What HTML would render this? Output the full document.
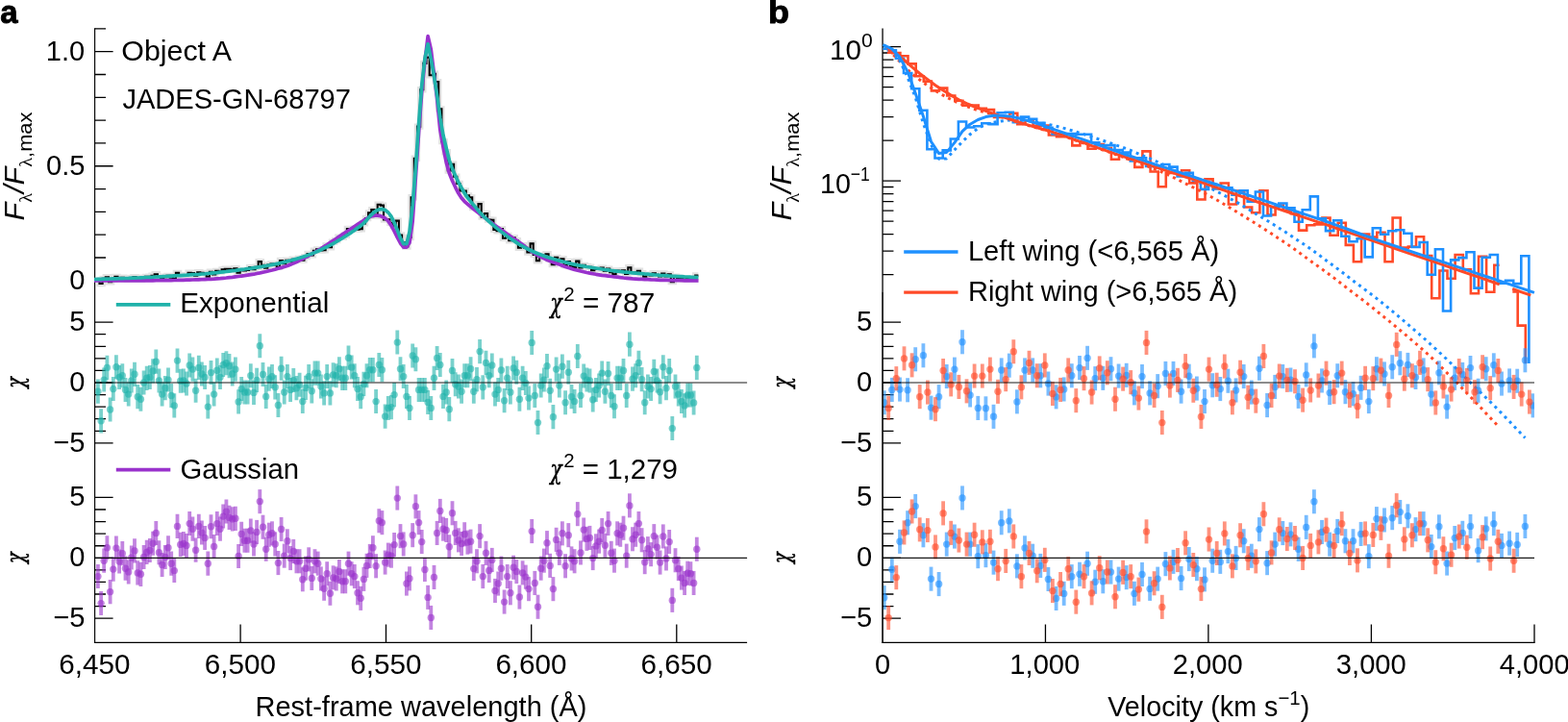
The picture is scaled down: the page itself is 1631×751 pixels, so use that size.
<!DOCTYPE html>
<html lang="en">
<head>
<meta charset="utf-8">
<title>Line profile fits: exponential versus Gaussian wings</title>
<style>html,body{margin:0;padding:0;background:#fff}body{width:1631px;height:751px;overflow:hidden}svg{display:block}</style>
</head>
<body>
<svg width="1631" height="751" viewBox="0 0 1631 751" role="img" aria-label="Broad line profile of Object A fitted with exponential and Gaussian wings">
<rect width="1631" height="751" fill="#fff"/>
<path d="M98.6,29.29V669" stroke="#000" stroke-width="1.15" fill="none"/>
<path d="M98.02,668.4H777.1" stroke="#000" stroke-width="1.2" fill="none"/>
<path d="M98.6,53.7h19M98.6,172.75h19M98.6,291.8h19M98.6,335.15h19M98.6,398h19M98.6,460.85h19M98.6,517.45h19M98.6,580.3h19M98.6,643.15h19M98.6,29.89h11.4M98.6,77.51h11.4M98.6,101.32h11.4M98.6,125.13h11.4M98.6,148.94h11.4M98.6,196.56h11.4M98.6,220.37h11.4M98.6,244.18h11.4M98.6,267.99h11.4M98.6,385.43h11.4M98.6,372.86h11.4M98.6,360.29h11.4M98.6,347.72h11.4M98.6,410.57h11.4M98.6,423.14h11.4M98.6,435.71h11.4M98.6,448.28h11.4M98.6,567.73h11.4M98.6,555.16h11.4M98.6,542.59h11.4M98.6,530.02h11.4M98.6,592.87h11.4M98.6,605.44h11.4M98.6,618.01h11.4M98.6,630.58h11.4M250.1,668.4v-19M401.5,668.4v-19M552.7,668.4v-19M703.8,668.4v-19" stroke="#000" stroke-width="1.3" fill="none"/>
<path d="M918.05,29.6V303.3" stroke="#000" stroke-width="1.3" fill="none"/>
<path d="M918.05,303.3V669" stroke="#000" stroke-width="1.6" fill="none"/>
<path d="M917.25,668.4H1596.6" stroke="#000" stroke-width="1.2" fill="none"/>
<path d="M918.05,48.6h19M918.05,188.1h19M918.05,335.15h19M918.05,398h19M918.05,460.85h19M918.05,517.45h19M918.05,580.3h19M918.05,643.15h19M918.05,54.98h11.4M918.05,62.12h11.4M918.05,70.21h11.4M918.05,79.55h11.4M918.05,90.59h11.4M918.05,104.11h11.4M918.05,121.54h11.4M918.05,146.11h11.4M918.05,194.48h11.4M918.05,201.62h11.4M918.05,209.71h11.4M918.05,219.05h11.4M918.05,230.09h11.4M918.05,243.61h11.4M918.05,261.04h11.4M918.05,285.61h11.4M918.05,385.43h11.4M918.05,372.86h11.4M918.05,360.29h11.4M918.05,347.72h11.4M918.05,410.57h11.4M918.05,423.14h11.4M918.05,435.71h11.4M918.05,448.28h11.4M918.05,567.73h11.4M918.05,555.16h11.4M918.05,542.59h11.4M918.05,530.02h11.4M918.05,592.87h11.4M918.05,605.44h11.4M918.05,618.01h11.4M918.05,630.58h11.4M1087.45,668.4v-19M1256.9,668.4v-19M1426.4,668.4v-19M1596,668.4v-19" stroke="#000" stroke-width="1.3" fill="none"/>
<g fill="none" stroke-linejoin="round">
<path d="M100.3,291.5H103.5V295H106.6V289.9H109.8V288.3H113V293.3H116.2V290.7H119.4V287.9H122.5V289.1H125.7V288.7H128.9V290.4H132.1V290.8H135.2V289H138.4V288.1H141.6V290.7H144.8V290.9H148V288.7H151.1V287.9H154.3V287.7H157.5V286.7H160.7V285.3H163.9V287.6H167V289.2H170.2V288.2H173.4V286.9H176.6V288.8H179.7V289.9H182.9V283.9H186.1V286.3H189.3V286.1H192.5V286.3H195.6V283.7H198.8V284H202V286.6H205.2V283.3H208.3V283.9H211.5V284H214.7V287.8H217.9V282.8H221.1V285.5H224.2V281.9H227.4V282.5H230.6V280.4H233.8V279.7H236.9H236.9H240.1V280.4H243.3V279.3H246.5V283.6H249.7V281.3H252.8V281.4H256V281H259.2V278.1H262.4V280.1H265.5V277.8H268.7V272.1H271.9V275.9H275.1V278.7H278.3V275.5H281.4V274.5H284.6V275.5H287.8V277.7H291V271H294.1V274.2H297.3V270.8H300.5V272.2H303.7V269.7H306.9V270.1H310V268.6H313.2V270.6H316.4V267.1H319.6V264H322.8V265.4H325.9V260.8H329.1V259.4H332.3V260.5H335.5V260.3H338.6V255.4H341.8V257.2H345V251.7H348.2V250H351.4V246.7H354.5H354.5H357.7V244.7H360.9V238H364.1H364.1H367.2V237.7H370.4V238.6H373.6V238.2H376.8V232.4H380V227H383.1V221.4H386.3V218.1H389.5V224.7H392.7V212.7H395.8V213.6H399V228.5H402.2V228.3H405.4V231.9H408.6V234.7H411.7V229.6H414.9V244.5H418.1V252.3H421.3V256.5H424.4V247H427.6V205.3H430.8V164.8H434V131.6H437.2V93.2H440.3V65.9H443.5V59.6H446.7V78.3H449.9V76.7H453V85.1H456.2V113.4H459.4V147.1H462.6V158.3H465.8V177.5H468.9V170.8H472.1V183.7H475.3V191H478.5V198.5H481.7H481.7H484.8V203.4H488V205.4H491.2V216.1H494.4V216.3H497.5V212.1H500.7V225.6H503.9V222H507.1V228.5H510.3V228.8H513.4V238.9H516.6V240.3H519.8V238.1H523V247.7H526.1V244.9H529.3V250.3H532.5V247.2H535.7V250.2H538.9V257.7H542V255.2H545.2V257.9H548.4V262.5H551.6V253.4H554.7V264.9H557.9V271.2H561.1V265.6H564.3V265.7H567.5V264.3H570.6V269.7H573.8V275.1H577V267.9H580.2V271.6H583.3V269.3H586.5V276.1H589.7V272H592.9V276.6H596.1V278.1H599.2V271.6H602.4V278.4H605.6V275.9H608.8V277H611.9V277.7H615.1V281.1H618.3V280H621.5V279.9H624.7V278.6H627.8V281.7H631V279.6H634.2V283.2H637.4V285.2H640.6V281.5H643.7V281.9H646.9V281.2H650.1V285H653.3V278.2H656.4V283.3H659.6V283.2H662.8V281.7H666V284.3H669.2V287.7H672.3V285.8H675.5V286.4H678.7V284.3H681.9V285.8H685V287.5H688.2V284.5H691.4V287.5H694.6V285.4H697.8V293.1H700.9V287.8H704.1V289H707.3V290.1H710.5V290.8H713.6V289.6H716.8V289.8H720V290.9H723.2V286.5H726.4" stroke="#e2e2e2" stroke-width="6.4" stroke-linejoin="miter"/>
<path d="M100.3,291.5H103.5V295H106.6V289.9H109.8V288.3H113V293.3H116.2V290.7H119.4V287.9H122.5V289.1H125.7V288.7H128.9V290.4H132.1V290.8H135.2V289H138.4V288.1H141.6V290.7H144.8V290.9H148V288.7H151.1V287.9H154.3V287.7H157.5V286.7H160.7V285.3H163.9V287.6H167V289.2H170.2V288.2H173.4V286.9H176.6V288.8H179.7V289.9H182.9V283.9H186.1V286.3H189.3V286.1H192.5V286.3H195.6V283.7H198.8V284H202V286.6H205.2V283.3H208.3V283.9H211.5V284H214.7V287.8H217.9V282.8H221.1V285.5H224.2V281.9H227.4V282.5H230.6V280.4H233.8V279.7H236.9H236.9H240.1V280.4H243.3V279.3H246.5V283.6H249.7V281.3H252.8V281.4H256V281H259.2V278.1H262.4V280.1H265.5V277.8H268.7V272.1H271.9V275.9H275.1V278.7H278.3V275.5H281.4V274.5H284.6V275.5H287.8V277.7H291V271H294.1V274.2H297.3V270.8H300.5V272.2H303.7V269.7H306.9V270.1H310V268.6H313.2V270.6H316.4V267.1H319.6V264H322.8V265.4H325.9V260.8H329.1V259.4H332.3V260.5H335.5V260.3H338.6V255.4H341.8V257.2H345V251.7H348.2V250H351.4V246.7H354.5H354.5H357.7V244.7H360.9V238H364.1H364.1H367.2V237.7H370.4V238.6H373.6V238.2H376.8V232.4H380V227H383.1V221.4H386.3V218.1H389.5V224.7H392.7V212.7H395.8V213.6H399V228.5H402.2V228.3H405.4V231.9H408.6V234.7H411.7V229.6H414.9V244.5H418.1V252.3H421.3V256.5H424.4V247H427.6V205.3H430.8V164.8H434V131.6H437.2V93.2H440.3V65.9H443.5V59.6H446.7V78.3H449.9V76.7H453V85.1H456.2V113.4H459.4V147.1H462.6V158.3H465.8V177.5H468.9V170.8H472.1V183.7H475.3V191H478.5V198.5H481.7H481.7H484.8V203.4H488V205.4H491.2V216.1H494.4V216.3H497.5V212.1H500.7V225.6H503.9V222H507.1V228.5H510.3V228.8H513.4V238.9H516.6V240.3H519.8V238.1H523V247.7H526.1V244.9H529.3V250.3H532.5V247.2H535.7V250.2H538.9V257.7H542V255.2H545.2V257.9H548.4V262.5H551.6V253.4H554.7V264.9H557.9V271.2H561.1V265.6H564.3V265.7H567.5V264.3H570.6V269.7H573.8V275.1H577V267.9H580.2V271.6H583.3V269.3H586.5V276.1H589.7V272H592.9V276.6H596.1V278.1H599.2V271.6H602.4V278.4H605.6V275.9H608.8V277H611.9V277.7H615.1V281.1H618.3V280H621.5V279.9H624.7V278.6H627.8V281.7H631V279.6H634.2V283.2H637.4V285.2H640.6V281.5H643.7V281.9H646.9V281.2H650.1V285H653.3V278.2H656.4V283.3H659.6V283.2H662.8V281.7H666V284.3H669.2V287.7H672.3V285.8H675.5V286.4H678.7V284.3H681.9V285.8H685V287.5H688.2V284.5H691.4V287.5H694.6V285.4H697.8V293.1H700.9V287.8H704.1V289H707.3V290.1H710.5V290.8H713.6V289.6H716.8V289.8H720V290.9H723.2V286.5H726.4" stroke="#000" stroke-width="2.1" stroke-linejoin="miter"/>
<path d="M98,291.9 101.9,291.9 105.1,291.9 108.2,291.9 111.4,291.9 114.6,291.9 117.8,291.9 120.9,291.9 124.1,291.9 127.3,291.9 130.5,291.9 133.7,291.9 136.8,291.9 140,291.9 143.2,291.9 146.4,291.9 149.5,291.8 152.7,291.8 155.9,291.8 159.1,291.8 162.3,291.7 165.4,291.7 168.6,291.7 171.8,291.6 175,291.6 178.1,291.6 181.3,291.5 184.5,291.5 187.7,291.4 190.9,291.3 194,291.2 197.2,291.1 200.4,291 203.6,290.9 206.8,290.8 209.9,290.7 213.1,290.6 216.3,290.4 219.5,290.3 222.6,290.1 225.8,289.8 229,289.6 232.2,289.3 235.4,289 238.5,288.6 241.7,288.3 244.9,287.9 248.1,287.5 251.2,287.1 254.4,286.7 257.6,286.2 260.8,285.7 264,285.2 267.1,284.5 270.3,283.9 273.5,283.2 276.7,282.5 279.8,281.7 283,281 286.2,280.2 289.4,279.3 292.6,278.4 295.7,277.4 298.9,276.4 302.1,275.2 305.3,273.9 308.4,272.5 311.6,270.9 314.8,269.3 318,267.7 321.2,266 324.3,264.2 327.5,262.4 330.7,260.4 333.9,258.5 337,256.5 340.2,254.5 343.4,252.4 346.6,250.3 349.8,248.2 352.9,246 356.1,243.9 359.3,241.8 362.5,239.7 365.7,237.6 368.8,235.5 372,233.4 375.2,231.3 378.4,229.2 381.5,227.3 384.7,225.6 387.9,224.6 391.1,224 394.3,224.3 397.4,225.3 400.6,227 403.8,229.9 407,234.6 410.1,240.4 413.3,246.8 416.5,252.8 419.7,257.2 422.9,257.2 426,252.5 429.2,230 432.4,184 435.6,138.1 438.7,96 441.9,64 445.1,37.6 448.3,51.5 451.5,77 454.6,103 457.8,135 461,153 464.2,169 467.3,180 470.5,188 473.7,194.8 476.9,201.1 480.1,206.1 483.2,209.6 486.4,212.4 489.6,215.1 492.8,217.6 495.9,220.1 499.1,222.5 502.3,225 505.5,227.3 508.7,229.7 511.8,232.1 515,234.4 518.2,236.7 521.4,239 524.6,241.2 527.7,243.5 530.9,245.7 534.1,247.9 537.3,250.1 540.4,252.3 543.6,254.6 546.8,257 550,259.4 553.2,261.7 556.3,263.8 559.5,265.7 562.7,267.4 565.9,268.9 569,270.3 572.2,271.6 575.4,272.8 578.6,274 581.8,275.1 584.9,276.3 588.1,277.4 591.3,278.4 594.5,279.4 597.6,280.4 600.8,281.2 604,282 607.2,282.8 610.4,283.5 613.5,284.1 616.7,284.7 619.9,285.3 623.1,285.8 626.2,286.3 629.4,286.7 632.6,287.1 635.8,287.5 639,287.9 642.1,288.2 645.3,288.6 648.5,289 651.7,289.3 654.8,289.6 658,289.9 661.2,290.1 664.4,290.3 667.6,290.4 670.7,290.6 673.9,290.7 677.1,290.9 680.3,291 683.5,291.1 686.6,291.3 689.8,291.4 693,291.4 696.2,291.5 699.3,291.6 702.5,291.6 705.7,291.7 708.9,291.7 712.1,291.8 715.2,291.8 718.4,291.9 721.6,291.9 724.8,291.9 726.5,291.9" stroke="#9932cc" stroke-width="3.7" stroke-linecap="butt"/>
<path d="M98,290.5 101.9,290.4 105.1,290.3 108.2,290.2 111.4,290.1 114.6,290 117.8,289.9 120.9,289.8 124.1,289.7 127.3,289.6 130.5,289.5 133.7,289.4 136.8,289.2 140,289.1 143.2,289 146.4,288.8 149.5,288.7 152.7,288.5 155.9,288.3 159.1,288.2 162.3,288 165.4,287.8 168.6,287.7 171.8,287.5 175,287.3 178.1,287.1 181.3,286.9 184.5,286.7 187.7,286.6 190.9,286.4 194,286.2 197.2,285.9 200.4,285.7 203.6,285.5 206.8,285.3 209.9,285 213.1,284.8 216.3,284.5 219.5,284.2 222.6,283.9 225.8,283.6 229,283.2 232.2,282.8 235.4,282.5 238.5,282.1 241.7,281.7 244.9,281.3 248.1,280.8 251.2,280.4 254.4,280 257.6,279.5 260.8,279.1 264,278.6 267.1,278.2 270.3,277.7 273.5,277.1 276.7,276.6 279.8,276 283,275.4 286.2,274.8 289.4,274.1 292.6,273.3 295.7,272.6 298.9,271.8 302.1,271 305.3,270.1 308.4,269.2 311.6,268.3 314.8,267.3 318,266.2 321.2,265.1 324.3,263.9 327.5,262.6 330.7,261.2 333.9,259.7 337,258.2 340.2,256.7 343.4,255.1 346.6,253.3 349.8,251.5 352.9,249.7 356.1,247.7 359.3,245.7 362.5,243.7 365.7,241.6 368.8,239.4 372,237 375.2,234.7 378.4,232.1 381.5,228.9 384.7,224.9 387.9,221.8 391.1,219.3 394.3,217.9 397.4,217.4 400.6,218.6 403.8,221 407,225.2 410.1,231.6 413.3,239.3 416.5,247.5 419.7,253.6 422.9,253.6 426,241 429.2,213.5 432.4,174 435.6,128.1 438.7,89 441.9,61.2 445.1,45.9 448.3,61.5 451.5,79.5 454.6,99 457.8,122.5 461,140.5 464.2,154 467.3,166.5 470.5,175.5 473.7,183 476.9,189.6 480.1,195.5 483.2,200.9 486.4,205.6 489.6,209.7 492.8,213.4 495.9,217.2 499.1,221 502.3,224.3 505.5,227.4 508.7,230.4 511.8,233.2 515,235.9 518.2,238.6 521.4,241.1 524.6,243.5 527.7,245.9 530.9,248.2 534.1,250.3 537.3,252.4 540.4,254.3 543.6,256.1 546.8,257.8 550,259.5 553.2,261 556.3,262.5 559.5,263.8 562.7,265 565.9,266.2 569,267.3 572.2,268.3 575.4,269.3 578.6,270.2 581.8,271.1 584.9,272 588.1,272.8 591.3,273.6 594.5,274.4 597.6,275.1 600.8,275.8 604,276.4 607.2,276.9 610.4,277.5 613.5,278 616.7,278.5 619.9,279 623.1,279.5 626.2,280 629.4,280.5 632.6,280.9 635.8,281.4 639,281.8 642.1,282.2 645.3,282.5 648.5,282.9 651.7,283.2 654.8,283.5 658,283.8 661.2,284.1 664.4,284.4 667.6,284.7 670.7,285 673.9,285.2 677.1,285.5 680.3,285.8 683.5,286 686.6,286.3 689.8,286.5 693,286.7 696.2,287 699.3,287.2 702.5,287.3 705.7,287.5 708.9,287.7 712.1,287.9 715.2,288 718.4,288.2 721.6,288.3 724.8,288.4 726.5,288.5" stroke="#20b2aa" stroke-width="3.7" stroke-linecap="butt"/>
</g>
<clipPath id="cb"><rect x="918" y="20" width="682" height="358"/></clipPath>
<g fill="none" clip-path="url(#cb)" stroke-width="2.6" stroke-linejoin="miter" stroke-linecap="square">
<path d="M924.2,54.7H928.3V55.1H936.4V58.2H944.5V66.4H952.7V79.2H960.8V84.6H968.9V94.4H977V91.6H985.2V99.5H993.3V104.7H1001.4V109.6H1009.6V109.5H1017.7V112.7H1025.8V114.1H1034V122H1042.1V121.8H1050.2V117.9H1058.3V129.1H1066.5V125.4H1074.6V130.9H1082.7V130.5H1090.9V140.5H1099V142.2H1107.1V139.4H1115.3V151.4H1123.4V147.5H1131.5V154.7H1139.6V150H1147.8V154H1155.9V165.7H1164V161.3H1172.2V165.2H1180.3V173.9H1188.4V157.4H1196.6V178.5H1204.7V194.2H1212.8V179.9H1220.9V180.3H1229.1V177.3H1237.2V190.4H1245.3V207.5H1253.5V186.4H1261.6V196.3H1269.7V190.5H1277.9V212.5H1286V198.6H1294.1V215.5H1302.2V221.2H1310.4V198.2H1318.5V223.5H1326.6V213.5H1334.8V218.7H1342.9V222.2H1351V239.6H1359.2V234.3H1367.3V233.4H1375.4V226.6H1383.5V244.7H1391.7V231.7H1399.8V254.9H1407.9V272.2H1416.1V243.6H1424.2V246.6H1432.3V241.8H1440.5V272.2H1448.6V226.5H1456.7V257.6H1464.8V256.6H1473V246.3H1481.1V266.1H1489.2V310.2H1497.4V281.5H1505.5V289.7H1513.6V265H1521.8V280.4H1529.9V305.3H1538V266.8H1546.1V303.7H1554.3V275.7H1558.3M1574.6,303.5H1578.7V338.6H1586.8V2000H1590.9" stroke="#ff4a28"/>
<path d="M919.7,50.7H923.8V52.2H931.9V60.8H940V76H948.2V92.2H956.3V114.8H964.4V155.3H972.5V164.5H980.7V156.4H988.8V144.5H996.9V126.5H1005.1V132.5H1013.2V131.2H1021.3V128.3H1029.5V129.1H1037.6V117.2H1045.7V116.8H1053.8V127.3H1062V121.6H1070.1V123.9H1078.2V127.9H1086.4V132.8H1094.5V139.4H1102.6V140H1110.8V139.1H1118.9V139.7H1127V139.8H1135.1V148.3H1143.3V151H1151.4V151.1H1159.5V156H1167.7V158.6H1175.8V167.5H1183.9V164.2H1192.1V173H1200.2V173.1H1208.3V171H1216.4V173.6H1224.6V183.5H1232.7V179.8H1240.8V187.7H1249V196.9H1257.1V191.8H1265.2V196.3H1273.4V195.2H1281.5V202.7H1289.6V198.3H1297.7V209.6H1305.9V199.5H1314V224.5H1322.1V215.1H1330.3V211.5H1338.4V216.2H1346.5V230.7H1354.7V218.3H1362.8V204.4H1370.9V227.4H1379V240.1H1387.2V229.2H1395.3V245.8H1403.4V251.2H1411.6V248.3H1419.7V267.4H1427.8V237.2H1436V243.8H1444.1V240.2H1452.2V239.2H1460.3V242.7H1468.5V257H1476.6V252H1484.7V285.8H1492.9V259.3H1501V323.5H1509.1V270.4H1517.3V268.1H1525.4V262.3H1533.5V299.6H1541.6V267.7H1549.8V265H1557.9V294.8H1566V291.9H1574.2V295.1H1582.3V266.2H1590.4V2000H1594.5" stroke="#1e90ff"/>
</g>
<g fill="none" stroke-width="3" stroke-dasharray="3 4.3" stroke-linejoin="round">
<path d="M924.2,51.7 932.3,60.1 940.5,68.8 948.6,77 956.7,83 964.9,89.1 973,94.4 981.1,99.1 989.2,103.5 997.4,107.3 1005.5,110.5 1013.6,113.6 1021.8,116.1 1029.9,118.2 1038,120.5 1046.2,123.1 1054.3,125.9 1062.4,128.3 1070.5,130.7 1078.7,133 1086.8,135.3 1094.9,137.7 1103.1,140.4 1111.2,143.2 1119.3,146.1 1127.5,149.1 1135.6,152 1143.7,154.8 1151.8,157.6 1160,160.5 1168.1,163.3 1176.2,166.3 1184.4,169.3 1192.5,172.4 1200.6,175.6 1208.8,179 1216.9,182.7 1225,186.7 1233.1,190.9 1241.3,195 1249.4,199.1 1257.5,203.4 1265.7,208 1273.8,212.8 1281.9,217.7 1290.1,222.6 1298.2,227.6 1306.3,232.6 1314.4,237.8 1322.6,243.1 1330.7,248.5 1338.8,253.9 1347,259.6 1355.1,265.5 1363.2,271.4 1371.4,277.2 1379.5,283.1 1387.6,289.1 1395.7,295.4 1403.9,301.8 1412,307.9 1420.1,314.1 1428.3,320.5 1436.4,327.1 1444.5,333.7 1452.7,340.4 1460.8,347.2 1468.9,354.1 1477,361.1 1485.2,368.5 1493.3,376.1 1501.4,384.1 1509.6,392.3 1517.7,400.5 1525.8,408.9 1534,417.4 1542.1,426 1550.2,434.6 1558.3,443.2" stroke="#ff4a28"/>
<path d="M919.7,47.3 927.8,52.2 936,63.2 944.1,80.5 952.2,101.3 960.4,128.5 968.5,150.4 976.6,165.3 984.7,164.9 992.9,155.9 1001,147.4 1009.1,139.7 1017.3,133.5 1025.4,129.3 1033.5,127.2 1041.7,125.9 1049.8,125.1 1057.9,125 1066,125.3 1074.2,126.5 1082.3,127.8 1090.4,129.4 1098.6,131.3 1106.7,133.4 1114.8,135.7 1123,138.2 1131.1,140.9 1139.2,143.6 1147.3,146.2 1155.5,149 1163.6,151.9 1171.7,154.7 1179.9,158 1188,161.6 1196.1,164.9 1204.2,168.5 1212.4,172.6 1220.5,176.8 1228.6,180.7 1236.8,184.6 1244.9,188.6 1253,192.7 1261.2,196.8 1269.3,201 1277.4,205.4 1285.6,209.9 1293.7,214.6 1301.8,219.6 1309.9,224.6 1318.1,229.5 1326.2,234.5 1334.3,239.6 1342.5,244.9 1350.6,250.4 1358.7,255.7 1366.9,261.5 1375,267.5 1383.1,273.6 1391.2,279.5 1399.4,285.7 1407.5,292 1415.6,298 1423.8,304.2 1431.9,310.4 1440,316.9 1448.2,323.6 1456.3,330.4 1464.4,337.4 1472.5,344.4 1480.7,351.5 1488.8,358.7 1496.9,366.2 1505.1,373.9 1513.2,381.8 1521.3,389.9 1529.5,397.9 1537.6,405.8 1545.7,413.7 1553.8,421.6 1562,429.9 1570.1,438.3 1578.2,446.9 1586.4,455.5" stroke="#1e90ff"/>
</g>
<g fill="none" stroke-width="3" stroke-linejoin="round" stroke-linecap="square">
<path d="M924.2,50.1 932.3,55.8 940.5,62.5 948.6,69.6 956.7,76.5 964.9,82.6 973,88.7 981.1,94 989.2,99.1 997.4,103.8 1005.5,107.6 1013.6,111 1021.8,114.2 1029.9,117.2 1038,119.8 1046.2,122.6 1054.3,125.2 1062.4,127.9 1070.5,130.4 1078.7,132.7 1086.8,135 1094.9,137.4 1103.1,140.1 1111.2,142.9 1119.3,145.8 1127.5,148.7 1135.6,151.6 1143.7,154.4 1151.8,157.2 1160,159.9 1168.1,162.6 1176.2,165.3 1184.4,168 1192.5,170.7 1200.6,173.4 1208.8,176 1216.9,178.7 1225,181.3 1233.1,184 1241.3,186.7 1249.4,189.5 1257.5,192.3 1265.7,195.2 1273.8,198.2 1281.9,201.1 1290.1,203.9 1298.2,206.7 1306.3,209.5 1314.4,212.2 1322.6,214.9 1330.7,217.6 1338.8,220.3 1347,223 1355.1,225.7 1363.2,228.4 1371.4,231.1 1379.5,233.7 1387.6,236.5 1395.7,239.3 1403.9,242.1 1412,244.9 1420.1,247.8 1428.3,250.6 1436.4,253.4 1444.5,256.2 1452.7,259 1460.8,261.8 1468.9,264.6 1477,267.4 1485.2,270.1 1493.3,272.9 1501.4,275.7 1509.6,278.5 1517.7,281.3 1525.8,284.1 1534,286.9 1542.1,289.7 1550.2,292.5 1558.3,295.3M1574.6,301 1582.7,303.8 1590.9,306.6" stroke="#ff4a28"/>
<path d="M919.7,47.2 927.8,50.9 936,59.6 944.1,74.6 952.2,97 960.4,121 968.5,147.3 976.6,159.6 984.7,158.4 992.9,148.4 1001,136.7 1009.1,129.2 1017.3,124.5 1025.4,121.6 1033.5,120.2 1041.7,120.2 1049.8,120.9 1057.9,122.4 1066,124.6 1074.2,127 1082.3,129.7 1090.4,132.5 1098.6,135.4 1106.7,138.2 1114.8,141 1123,143.9 1131.1,146.7 1139.2,149.6 1147.3,152.4 1155.5,155.3 1163.6,158.2 1171.7,161 1179.9,163.7 1188,166.4 1196.1,169.1 1204.2,171.8 1212.4,174.4 1220.5,177.1 1228.6,179.8 1236.8,182.4 1244.9,185.1 1253,187.8 1261.2,190.5 1269.3,193.2 1277.4,196 1285.6,198.7 1293.7,201.4 1301.8,204.2 1309.9,206.9 1318.1,209.7 1326.2,212.4 1334.3,215.2 1342.5,217.9 1350.6,220.7 1358.7,223.4 1366.9,226.2 1375,228.9 1383.1,231.7 1391.2,234.6 1399.4,237.5 1407.5,240.5 1415.6,243.5 1423.8,246.4 1431.9,249.3 1440,252.1 1448.2,254.8 1456.3,257.6 1464.4,260.3 1472.5,263.1 1480.7,265.8 1488.8,268.5 1496.9,271.2 1505.1,273.9 1513.2,276.7 1521.3,279.4 1529.5,282.1 1537.6,284.8 1545.7,287.5 1553.8,290.2 1562,293 1570.1,295.7 1578.2,298.4 1586.4,301.1 1594.5,303.9" stroke="#1e90ff"/>
</g>
<style>
text{font-family:"Liberation Sans", Arial, Helvetica, sans-serif;font-size:29.5px;fill:#000}.pl{font-weight:bold;font-size:35px;stroke:#000;stroke-width:.9px;stroke-linejoin:round}
.e{fill:none;stroke-width:3.8px;stroke-opacity:.6}
.m{stroke:none;fill-opacity:.6}
.t{stroke:#20b2aa;fill:#20b2aa}.p{stroke:#9932cc;fill:#9932cc}.b{stroke:#1e90ff;fill:#1e90ff}.r{stroke:#ff4a28;fill:#ff4a28}
.e.t,.e.p,.e.b,.e.r{fill:none}.m.t,.m.p,.m.b,.m.r{stroke:none}
</style>
<clipPath id="ca"><rect x="99.15" y="300" width="700" height="368"/></clipPath>
<g class="t" clip-path="url(#ca)">
<path class="e" d="M101.9,394.6v25.1"/><path class="e" d="M105.1,425.3v25.1"/><path class="e" d="M108.2,382.5v25.1"/><path class="e" d="M111.4,369.8v25.1"/><path class="e" d="M114.6,413.5v25.1"/><path class="e" d="M117.8,392v25.1"/><path class="e" d="M120.9,369.2v25.1"/><path class="e" d="M124.1,379.9v25.1"/><path class="e" d="M127.3,378.2v25.1"/><path class="e" d="M130.5,392.9v25.1"/><path class="e" d="M133.7,397.5v25.1"/><path class="e" d="M136.8,383.4v25.1"/><path class="e" d="M140,376.8v25.1"/><path class="e" d="M143.2,400.1v25.1"/><path class="e" d="M146.4,402.7v25.1"/><path class="e" d="M149.6,385.4v25.1"/><path class="e" d="M152.7,380.8v25.1"/><path class="e" d="M155.9,379.9v25.1"/><path class="e" d="M159.1,373.3v25.1"/><path class="e" d="M162.3,363.6v25.1"/><path class="e" d="M165.4,383.4v25.1"/><path class="e" d="M168.6,397.5v25.1"/><path class="e" d="M171.8,391.1v25.1"/><path class="e" d="M175,382.5v25.1"/><path class="e" d="M178.2,398.9v25.1"/><path class="e" d="M181.3,409.3v25.1"/><path class="e" d="M184.5,362.6v25.1"/><path class="e" d="M187.7,383.7v25.1"/><path class="e" d="M190.9,383.4v25.1"/><path class="e" d="M194,386.5v25.1"/><path class="e" d="M197.2,367.4v25.1"/><path class="e" d="M200.4,371.6v25.1"/><path class="e" d="M203.6,393.7v25.1"/><path class="e" d="M206.8,369.8v25.1"/><path class="e" d="M209.9,376.4v25.1"/><path class="e" d="M213.1,379.9v25.1"/><path class="e" d="M216.3,410.5v25.1"/><path class="e" d="M219.5,375v25.1"/><path class="e" d="M222.6,397.5v25.1"/><path class="e" d="M225.8,372.6v25.1"/><path class="e" d="M229,379.9v25.1"/><path class="e" d="M232.2,366.9v25.1"/><path class="e" d="M235.4,365.2v25.1"/><path class="e" d="M238.5,368.1v25.1"/><path class="e" d="M241.7,376.4v25.1"/><path class="e" d="M244.9,371.6v25.1"/><path class="e" d="M248.1,405.3v25.1"/><path class="e" d="M251.2,392v25.1"/><path class="e" d="M254.4,395.5v25.1"/><path class="e" d="M257.6,395.5v25.1"/><path class="e" d="M260.8,378.2v25.1"/><path class="e" d="M264,395.8v25.1"/><path class="e" d="M267.1,382.8v25.1"/><path class="e" d="M270.3,347.2v25.1"/><path class="e" d="M273.5,376.9v25.1"/><path class="e" d="M276.7,399.8v25.1"/><path class="e" d="M279.8,381.6v25.1"/><path class="e" d="M283,379v25.1"/><path class="e" d="M286.2,390.3v25.1"/><path class="e" d="M289.4,409v25.1"/><path class="e" d="M292.6,370.7v25.1"/><path class="e" d="M295.7,395.5v25.1"/><path class="e" d="M298.9,379v25.1"/><path class="e" d="M302.1,392.9v25.1"/><path class="e" d="M305.3,383v25.1"/><path class="e" d="M308.4,391.1v25.1"/><path class="e" d="M311.6,387.7v25.1"/><path class="e" d="M314.8,405v25.1"/><path class="e" d="M318,390.8v25.1"/><path class="e" d="M321.2,379v25.1"/><path class="e" d="M324.3,394.3v25.1"/><path class="e" d="M327.5,375.6v25.1"/><path class="e" d="M330.7,375.6v25.1"/><path class="e" d="M333.9,389.4v25.1"/><path class="e" d="M337.1,396.3v25.1"/><path class="e" d="M340.2,379v25.1"/><path class="e" d="M343.4,396.3v25.1"/><path class="e" d="M346.6,377.3v25.1"/><path class="e" d="M349.8,378.2v25.1"/><path class="e" d="M352.9,371.2v25.1"/><path class="e" d="M356.1,380.8v25.1"/><path class="e" d="M359.3,380.8v25.1"/><path class="e" d="M362.5,359.6v25.1"/><path class="e" d="M365.7,369.5v25.1"/><path class="e" d="M368.8,378.2v25.1"/><path class="e" d="M372,392v25.1"/><path class="e" d="M375.2,400.1v25.1"/><path class="e" d="M378.4,386.8v25.1"/><path class="e" d="M381.5,378.2v25.1"/><path class="e" d="M384.7,372.1v25.1"/><path class="e" d="M387.9,372.1v25.1"/><path class="e" d="M391.1,405v25.1"/><path class="e" d="M394.3,366.9v25.1"/><path class="e" d="M397.4,372.1v25.1"/><path class="e" d="M400.6,420.6v25.1"/><path class="e" d="M403.8,411.9v25.1"/><path class="e" d="M407,411.1v25.1"/><path class="e" d="M410.1,398.1v25.1"/><path class="e" d="M413.3,343.5v25.1"/><path class="e" d="M416.5,371.2v25.1"/><path class="e" d="M419.7,379v25.1"/><path class="e" d="M422.9,399.8v25.1"/><path class="e" d="M426,411.9v25.1"/><path class="e" d="M429.2,357.4v25.1"/><path class="e" d="M432.4,361.2v25.1"/><path class="e" d="M435.6,392.9v25.1"/><path class="e" d="M438.7,392.9v25.1"/><path class="e" d="M441.9,392.9v25.1"/><path class="e" d="M445.1,405.9v25.1"/><path class="e" d="M448.3,411.9v25.1"/><path class="e" d="M451.5,380.8v25.1"/><path class="e" d="M454.6,360v25.1"/><path class="e" d="M457.8,366.9v25.1"/><path class="e" d="M461,399.8v25.1"/><path class="e" d="M464.2,395.5v25.1"/><path class="e" d="M467.3,413.1v25.1"/><path class="e" d="M470.5,373v25.1"/><path class="e" d="M473.7,387.2v25.1"/><path class="e" d="M476.9,389.4v25.1"/><path class="e" d="M480.1,394.6v25.1"/><path class="e" d="M483.2,378.2v25.1"/><path class="e" d="M486.4,378.2v25.1"/><path class="e" d="M489.6,371.2v25.1"/><path class="e" d="M492.8,394.6v25.1"/><path class="e" d="M496,382.1v25.1"/><path class="e" d="M499.1,353.1v25.1"/><path class="e" d="M502.3,390.3v25.1"/><path class="e" d="M505.5,364.8v25.1"/><path class="e" d="M508.7,378.2v25.1"/><path class="e" d="M511.8,367.4v25.1"/><path class="e" d="M515,397.5v25.1"/><path class="e" d="M518.2,392.9v25.1"/><path class="e" d="M521.4,372.4v25.1"/><path class="e" d="M524.6,404.1v25.1"/><path class="e" d="M527.7,380.8v25.1"/><path class="e" d="M530.9,395.5v25.1"/><path class="e" d="M534.1,370.4v25.1"/><path class="e" d="M537.3,374.7v25.1"/><path class="e" d="M540.4,402.7v25.1"/><path class="e" d="M543.6,380.8v25.1"/><path class="e" d="M546.8,385.9v25.1"/><path class="e" d="M550,401.5v25.1"/><path class="e" d="M553.2,343.9v25.1"/><path class="e" d="M556.3,398.9v25.1"/><path class="e" d="M559.5,427v25.1"/><path class="e" d="M562.7,388.5v25.1"/><path class="e" d="M565.9,382.5v25.1"/><path class="e" d="M569,368.1v25.1"/><path class="e" d="M572.2,393.7v25.1"/><path class="e" d="M575.4,421.1v25.1"/><path class="e" d="M578.6,371.6v25.1"/><path class="e" d="M581.8,388.5v25.1"/><path class="e" d="M584.9,368.6v25.1"/><path class="e" d="M588.1,406.2v25.1"/><path class="e" d="M591.3,374.7v25.1"/><path class="e" d="M594.5,400.1v25.1"/><path class="e" d="M597.6,405v25.1"/><path class="e" d="M600.8,357.9v25.1"/><path class="e" d="M604,398.9v25.1"/><path class="e" d="M607.2,378.5v25.1"/><path class="e" d="M610.4,382.5v25.1"/><path class="e" d="M613.5,383.4v25.1"/><path class="e" d="M616.7,403.3v25.1"/><path class="e" d="M619.9,392.9v25.1"/><path class="e" d="M623.1,388.5v25.1"/><path class="e" d="M626.2,375.6v25.1"/><path class="e" d="M629.4,394.6v25.1"/><path class="e" d="M632.6,375.9v25.1"/><path class="e" d="M635.8,398.9v25.1"/><path class="e" d="M639,410.2v25.1"/><path class="e" d="M642.1,380.8v25.1"/><path class="e" d="M645.3,380.8v25.1"/><path class="e" d="M648.5,373v25.1"/><path class="e" d="M651.7,398.9v25.1"/><path class="e" d="M654.9,345.6v25.1"/><path class="e" d="M658,381.6v25.1"/><path class="e" d="M661.2,378.2v25.1"/><path class="e" d="M664.4,364.8v25.1"/><path class="e" d="M667.6,382.1v25.1"/><path class="e" d="M670.7,406.2v25.1"/><path class="e" d="M673.9,389.4v25.1"/><path class="e" d="M677.1,392v25.1"/><path class="e" d="M680.3,373.8v25.1"/><path class="e" d="M683.5,383.4v25.1"/><path class="e" d="M686.6,395.1v25.1"/><path class="e" d="M689.8,369.2v25.1"/><path class="e" d="M693,391.1v25.1"/><path class="e" d="M696.2,373v25.1"/><path class="e" d="M699.3,433v25.1"/><path class="e" d="M702.5,389.4v25.1"/><path class="e" d="M705.7,397.5v25.1"/><path class="e" d="M708.9,405v25.1"/><path class="e" d="M712.1,409.3v25.1"/><path class="e" d="M715.2,398.4v25.1"/><path class="e" d="M718.4,398.4v25.1"/><path class="e" d="M721.6,406.4v25.1"/><path class="e" d="M724.8,369.8v25.1"/>
<circle class="m" cx="101.9" cy="407.2" r="3.7"/><circle class="m" cx="105.1" cy="437.8" r="3.7"/><circle class="m" cx="108.2" cy="395.1" r="3.7"/><circle class="m" cx="111.4" cy="382.4" r="3.7"/><circle class="m" cx="114.6" cy="426" r="3.7"/><circle class="m" cx="117.8" cy="404.6" r="3.7"/><circle class="m" cx="120.9" cy="381.7" r="3.7"/><circle class="m" cx="124.1" cy="392.5" r="3.7"/><circle class="m" cx="127.3" cy="390.7" r="3.7"/><circle class="m" cx="130.5" cy="405.4" r="3.7"/><circle class="m" cx="133.7" cy="410.1" r="3.7"/><circle class="m" cx="136.8" cy="395.9" r="3.7"/><circle class="m" cx="140" cy="389.3" r="3.7"/><circle class="m" cx="143.2" cy="412.7" r="3.7"/><circle class="m" cx="146.4" cy="415.3" r="3.7"/><circle class="m" cx="149.6" cy="398" r="3.7"/><circle class="m" cx="152.7" cy="393.3" r="3.7"/><circle class="m" cx="155.9" cy="392.5" r="3.7"/><circle class="m" cx="159.1" cy="385.9" r="3.7"/><circle class="m" cx="162.3" cy="376.2" r="3.7"/><circle class="m" cx="165.4" cy="395.9" r="3.7"/><circle class="m" cx="168.6" cy="410.1" r="3.7"/><circle class="m" cx="171.8" cy="403.7" r="3.7"/><circle class="m" cx="175" cy="395.1" r="3.7"/><circle class="m" cx="178.2" cy="411.5" r="3.7"/><circle class="m" cx="181.3" cy="421.9" r="3.7"/><circle class="m" cx="184.5" cy="375.1" r="3.7"/><circle class="m" cx="187.7" cy="396.3" r="3.7"/><circle class="m" cx="190.9" cy="395.9" r="3.7"/><circle class="m" cx="194" cy="399" r="3.7"/><circle class="m" cx="197.2" cy="380" r="3.7"/><circle class="m" cx="200.4" cy="384.1" r="3.7"/><circle class="m" cx="203.6" cy="406.3" r="3.7"/><circle class="m" cx="206.8" cy="382.4" r="3.7"/><circle class="m" cx="209.9" cy="389" r="3.7"/><circle class="m" cx="213.1" cy="392.5" r="3.7"/><circle class="m" cx="216.3" cy="423.1" r="3.7"/><circle class="m" cx="219.5" cy="387.6" r="3.7"/><circle class="m" cx="222.6" cy="410.1" r="3.7"/><circle class="m" cx="225.8" cy="385.2" r="3.7"/><circle class="m" cx="229" cy="392.5" r="3.7"/><circle class="m" cx="232.2" cy="379.5" r="3.7"/><circle class="m" cx="235.4" cy="377.7" r="3.7"/><circle class="m" cx="238.5" cy="380.7" r="3.7"/><circle class="m" cx="241.7" cy="389" r="3.7"/><circle class="m" cx="244.9" cy="384.1" r="3.7"/><circle class="m" cx="248.1" cy="417.9" r="3.7"/><circle class="m" cx="251.2" cy="404.6" r="3.7"/><circle class="m" cx="254.4" cy="408" r="3.7"/><circle class="m" cx="257.6" cy="408" r="3.7"/><circle class="m" cx="260.8" cy="390.7" r="3.7"/><circle class="m" cx="264" cy="408.4" r="3.7"/><circle class="m" cx="267.1" cy="395.4" r="3.7"/><circle class="m" cx="270.3" cy="359.7" r="3.7"/><circle class="m" cx="273.5" cy="389.5" r="3.7"/><circle class="m" cx="276.7" cy="412.4" r="3.7"/><circle class="m" cx="279.8" cy="394.2" r="3.7"/><circle class="m" cx="283" cy="391.6" r="3.7"/><circle class="m" cx="286.2" cy="402.8" r="3.7"/><circle class="m" cx="289.4" cy="421.5" r="3.7"/><circle class="m" cx="292.6" cy="383.3" r="3.7"/><circle class="m" cx="295.7" cy="408" r="3.7"/><circle class="m" cx="298.9" cy="391.6" r="3.7"/><circle class="m" cx="302.1" cy="405.4" r="3.7"/><circle class="m" cx="305.3" cy="395.6" r="3.7"/><circle class="m" cx="308.4" cy="403.7" r="3.7"/><circle class="m" cx="311.6" cy="400.3" r="3.7"/><circle class="m" cx="314.8" cy="417.6" r="3.7"/><circle class="m" cx="318" cy="403.4" r="3.7"/><circle class="m" cx="321.2" cy="391.6" r="3.7"/><circle class="m" cx="324.3" cy="406.8" r="3.7"/><circle class="m" cx="327.5" cy="388.1" r="3.7"/><circle class="m" cx="330.7" cy="388.1" r="3.7"/><circle class="m" cx="333.9" cy="402" r="3.7"/><circle class="m" cx="337.1" cy="408.9" r="3.7"/><circle class="m" cx="340.2" cy="391.6" r="3.7"/><circle class="m" cx="343.4" cy="408.9" r="3.7"/><circle class="m" cx="346.6" cy="389.9" r="3.7"/><circle class="m" cx="349.8" cy="390.7" r="3.7"/><circle class="m" cx="352.9" cy="383.8" r="3.7"/><circle class="m" cx="356.1" cy="393.3" r="3.7"/><circle class="m" cx="359.3" cy="393.3" r="3.7"/><circle class="m" cx="362.5" cy="372.2" r="3.7"/><circle class="m" cx="365.7" cy="382.1" r="3.7"/><circle class="m" cx="368.8" cy="390.7" r="3.7"/><circle class="m" cx="372" cy="404.6" r="3.7"/><circle class="m" cx="375.2" cy="412.7" r="3.7"/><circle class="m" cx="378.4" cy="399.4" r="3.7"/><circle class="m" cx="381.5" cy="390.7" r="3.7"/><circle class="m" cx="384.7" cy="384.7" r="3.7"/><circle class="m" cx="387.9" cy="384.7" r="3.7"/><circle class="m" cx="391.1" cy="417.6" r="3.7"/><circle class="m" cx="394.3" cy="379.5" r="3.7"/><circle class="m" cx="397.4" cy="384.7" r="3.7"/><circle class="m" cx="400.6" cy="433.1" r="3.7"/><circle class="m" cx="403.8" cy="424.5" r="3.7"/><circle class="m" cx="407" cy="423.6" r="3.7"/><circle class="m" cx="410.1" cy="410.6" r="3.7"/><circle class="m" cx="413.3" cy="356.1" r="3.7"/><circle class="m" cx="416.5" cy="383.8" r="3.7"/><circle class="m" cx="419.7" cy="391.6" r="3.7"/><circle class="m" cx="422.9" cy="412.4" r="3.7"/><circle class="m" cx="426" cy="424.5" r="3.7"/><circle class="m" cx="429.2" cy="370" r="3.7"/><circle class="m" cx="432.4" cy="373.8" r="3.7"/><circle class="m" cx="435.6" cy="405.4" r="3.7"/><circle class="m" cx="438.7" cy="405.4" r="3.7"/><circle class="m" cx="441.9" cy="405.4" r="3.7"/><circle class="m" cx="445.1" cy="418.4" r="3.7"/><circle class="m" cx="448.3" cy="424.5" r="3.7"/><circle class="m" cx="451.5" cy="393.3" r="3.7"/><circle class="m" cx="454.6" cy="372.5" r="3.7"/><circle class="m" cx="457.8" cy="379.5" r="3.7"/><circle class="m" cx="461" cy="412.4" r="3.7"/><circle class="m" cx="464.2" cy="408" r="3.7"/><circle class="m" cx="467.3" cy="425.7" r="3.7"/><circle class="m" cx="470.5" cy="385.5" r="3.7"/><circle class="m" cx="473.7" cy="399.7" r="3.7"/><circle class="m" cx="476.9" cy="402" r="3.7"/><circle class="m" cx="480.1" cy="407.2" r="3.7"/><circle class="m" cx="483.2" cy="390.7" r="3.7"/><circle class="m" cx="486.4" cy="390.7" r="3.7"/><circle class="m" cx="489.6" cy="383.8" r="3.7"/><circle class="m" cx="492.8" cy="407.2" r="3.7"/><circle class="m" cx="496" cy="394.7" r="3.7"/><circle class="m" cx="499.1" cy="365.6" r="3.7"/><circle class="m" cx="502.3" cy="402.8" r="3.7"/><circle class="m" cx="505.5" cy="377.4" r="3.7"/><circle class="m" cx="508.7" cy="390.7" r="3.7"/><circle class="m" cx="511.8" cy="380" r="3.7"/><circle class="m" cx="515" cy="410.1" r="3.7"/><circle class="m" cx="518.2" cy="405.4" r="3.7"/><circle class="m" cx="521.4" cy="385" r="3.7"/><circle class="m" cx="524.6" cy="416.7" r="3.7"/><circle class="m" cx="527.7" cy="393.3" r="3.7"/><circle class="m" cx="530.9" cy="408" r="3.7"/><circle class="m" cx="534.1" cy="382.9" r="3.7"/><circle class="m" cx="537.3" cy="387.3" r="3.7"/><circle class="m" cx="540.4" cy="415.3" r="3.7"/><circle class="m" cx="543.6" cy="393.3" r="3.7"/><circle class="m" cx="546.8" cy="398.5" r="3.7"/><circle class="m" cx="550" cy="414.1" r="3.7"/><circle class="m" cx="553.2" cy="356.4" r="3.7"/><circle class="m" cx="556.3" cy="411.5" r="3.7"/><circle class="m" cx="559.5" cy="439.6" r="3.7"/><circle class="m" cx="562.7" cy="401.1" r="3.7"/><circle class="m" cx="565.9" cy="395.1" r="3.7"/><circle class="m" cx="569" cy="380.7" r="3.7"/><circle class="m" cx="572.2" cy="406.3" r="3.7"/><circle class="m" cx="575.4" cy="433.7" r="3.7"/><circle class="m" cx="578.6" cy="384.1" r="3.7"/><circle class="m" cx="581.8" cy="401.1" r="3.7"/><circle class="m" cx="584.9" cy="381.2" r="3.7"/><circle class="m" cx="588.1" cy="418.8" r="3.7"/><circle class="m" cx="591.3" cy="387.3" r="3.7"/><circle class="m" cx="594.5" cy="412.7" r="3.7"/><circle class="m" cx="597.6" cy="417.6" r="3.7"/><circle class="m" cx="600.8" cy="370.5" r="3.7"/><circle class="m" cx="604" cy="411.5" r="3.7"/><circle class="m" cx="607.2" cy="391.1" r="3.7"/><circle class="m" cx="610.4" cy="395.1" r="3.7"/><circle class="m" cx="613.5" cy="395.9" r="3.7"/><circle class="m" cx="616.7" cy="415.8" r="3.7"/><circle class="m" cx="619.9" cy="405.4" r="3.7"/><circle class="m" cx="623.1" cy="401.1" r="3.7"/><circle class="m" cx="626.2" cy="388.1" r="3.7"/><circle class="m" cx="629.4" cy="407.2" r="3.7"/><circle class="m" cx="632.6" cy="388.5" r="3.7"/><circle class="m" cx="635.8" cy="411.5" r="3.7"/><circle class="m" cx="639" cy="422.8" r="3.7"/><circle class="m" cx="642.1" cy="393.3" r="3.7"/><circle class="m" cx="645.3" cy="393.3" r="3.7"/><circle class="m" cx="648.5" cy="385.5" r="3.7"/><circle class="m" cx="651.7" cy="411.5" r="3.7"/><circle class="m" cx="654.9" cy="358.2" r="3.7"/><circle class="m" cx="658" cy="394.2" r="3.7"/><circle class="m" cx="661.2" cy="390.7" r="3.7"/><circle class="m" cx="664.4" cy="377.4" r="3.7"/><circle class="m" cx="667.6" cy="394.7" r="3.7"/><circle class="m" cx="670.7" cy="418.8" r="3.7"/><circle class="m" cx="673.9" cy="402" r="3.7"/><circle class="m" cx="677.1" cy="404.6" r="3.7"/><circle class="m" cx="680.3" cy="386.4" r="3.7"/><circle class="m" cx="683.5" cy="395.9" r="3.7"/><circle class="m" cx="686.6" cy="407.7" r="3.7"/><circle class="m" cx="689.8" cy="381.7" r="3.7"/><circle class="m" cx="693" cy="403.7" r="3.7"/><circle class="m" cx="696.2" cy="385.5" r="3.7"/><circle class="m" cx="699.3" cy="445.6" r="3.7"/><circle class="m" cx="702.5" cy="402" r="3.7"/><circle class="m" cx="705.7" cy="410.1" r="3.7"/><circle class="m" cx="708.9" cy="417.6" r="3.7"/><circle class="m" cx="712.1" cy="421.9" r="3.7"/><circle class="m" cx="715.2" cy="411" r="3.7"/><circle class="m" cx="718.4" cy="411" r="3.7"/><circle class="m" cx="721.6" cy="418.9" r="3.7"/><circle class="m" cx="724.8" cy="382.4" r="3.7"/>
</g>
<g class="p" clip-path="url(#ca)">
<path class="e" d="M101.9,587v25.1"/><path class="e" d="M105.1,615v25.1"/><path class="e" d="M108.2,570.6v25.1"/><path class="e" d="M111.4,557.2v25.1"/><path class="e" d="M114.6,603.1v25.1"/><path class="e" d="M117.8,579.6v25.1"/><path class="e" d="M120.9,557.5v25.1"/><path class="e" d="M124.1,571.5v25.1"/><path class="e" d="M127.3,563.1v25.1"/><path class="e" d="M130.5,578.6v25.1"/><path class="e" d="M133.7,582.4v25.1"/><path class="e" d="M136.8,567.4v25.1"/><path class="e" d="M140,560.3v25.1"/><path class="e" d="M143.2,583.3v25.1"/><path class="e" d="M146.4,584.8v25.1"/><path class="e" d="M149.6,566.9v25.1"/><path class="e" d="M152.7,561.8v25.1"/><path class="e" d="M155.9,560v25.1"/><path class="e" d="M159.1,552.7v25.1"/><path class="e" d="M162.3,541.9v25.1"/><path class="e" d="M165.4,562.2v25.1"/><path class="e" d="M168.6,574.9v25.1"/><path class="e" d="M171.8,566.9v25.1"/><path class="e" d="M175,557.2v25.1"/><path class="e" d="M178.2,573.6v25.1"/><path class="e" d="M181.3,581v25.1"/><path class="e" d="M184.5,534.8v25.1"/><path class="e" d="M187.7,553.8v25.1"/><path class="e" d="M190.9,552.9v25.1"/><path class="e" d="M194,554.9v25.1"/><path class="e" d="M197.2,532v25.1"/><path class="e" d="M200.4,537.6v25.1"/><path class="e" d="M203.6,559.6v25.1"/><path class="e" d="M206.8,534.8v25.1"/><path class="e" d="M209.9,541.5v25.1"/><path class="e" d="M213.1,546.9v25.1"/><path class="e" d="M216.3,573.6v25.1"/><path class="e" d="M219.5,535.2v25.1"/><path class="e" d="M222.6,555.9v25.1"/><path class="e" d="M225.8,532v25.1"/><path class="e" d="M229,537.6v25.1"/><path class="e" d="M232.2,524.5v25.1"/><path class="e" d="M235.4,519.5v25.1"/><path class="e" d="M238.5,525.8v25.1"/><path class="e" d="M241.7,527.3v25.1"/><path class="e" d="M244.9,526.8v25.1"/><path class="e" d="M248.1,565.9v25.1"/><path class="e" d="M251.2,542.8v25.1"/><path class="e" d="M254.4,549.7v25.1"/><path class="e" d="M257.6,549.7v25.1"/><path class="e" d="M260.8,539.5v25.1"/><path class="e" d="M264,553.4v25.1"/><path class="e" d="M267.1,540.9v25.1"/><path class="e" d="M270.3,509.1v25.1"/><path class="e" d="M273.5,535.7v25.1"/><path class="e" d="M276.7,558.7v25.1"/><path class="e" d="M279.8,543.7v25.1"/><path class="e" d="M283,542.3v25.1"/><path class="e" d="M286.2,553.4v25.1"/><path class="e" d="M289.4,573v25.1"/><path class="e" d="M292.6,538v25.1"/><path class="e" d="M295.7,565.6v25.1"/><path class="e" d="M298.9,550.3v25.1"/><path class="e" d="M302.1,568v25.1"/><path class="e" d="M305.3,560.9v25.1"/><path class="e" d="M308.4,571.2v25.1"/><path class="e" d="M311.6,571.2v25.1"/><path class="e" d="M314.8,590.2v25.1"/><path class="e" d="M318,578.6v25.1"/><path class="e" d="M321.2,569.3v25.1"/><path class="e" d="M324.3,588.9v25.1"/><path class="e" d="M327.5,571.2v25.1"/><path class="e" d="M330.7,573.6v25.1"/><path class="e" d="M333.9,589.4v25.1"/><path class="e" d="M337.1,599.7v25.1"/><path class="e" d="M340.2,584.2v25.1"/><path class="e" d="M343.4,604.7v25.1"/><path class="e" d="M346.6,588.3v25.1"/><path class="e" d="M349.8,589.4v25.1"/><path class="e" d="M352.9,582v25.1"/><path class="e" d="M356.1,592.2v25.1"/><path class="e" d="M359.3,592.2v25.1"/><path class="e" d="M362.5,573.6v25.1"/><path class="e" d="M365.7,584.2v25.1"/><path class="e" d="M368.8,587v25.1"/><path class="e" d="M372,604.2v25.1"/><path class="e" d="M375.2,609.8v25.1"/><path class="e" d="M378.4,589.8v25.1"/><path class="e" d="M381.5,575.8v25.1"/><path class="e" d="M384.7,565.9v25.1"/><path class="e" d="M387.9,557.2v25.1"/><path class="e" d="M391.1,576.2v25.1"/><path class="e" d="M394.3,529.2v25.1"/><path class="e" d="M397.4,531.1v25.1"/><path class="e" d="M400.6,572.5v25.1"/><path class="e" d="M403.8,564.6v25.1"/><path class="e" d="M407,565.6v25.1"/><path class="e" d="M410.1,554v25.1"/><path class="e" d="M413.3,505.5v25.1"/><path class="e" d="M416.5,545.1v25.1"/><path class="e" d="M419.7,553.4v25.1"/><path class="e" d="M422.9,594.5v25.1"/><path class="e" d="M426,589.3v25.1"/><path class="e" d="M429.2,544.1v25.1"/><path class="e" d="M432.4,514.3v25.1"/><path class="e" d="M435.6,531.1v25.1"/><path class="e" d="M438.7,551v25.1"/><path class="e" d="M441.9,579.9v25.1"/><path class="e" d="M445.1,608.8v25.1"/><path class="e" d="M448.3,629.9v25.1"/><path class="e" d="M451.5,587.9v25.1"/><path class="e" d="M454.6,541.9v25.1"/><path class="e" d="M457.8,518.9v25.1"/><path class="e" d="M461,537.6v25.1"/><path class="e" d="M464.2,538.9v25.1"/><path class="e" d="M467.3,556.2v25.1"/><path class="e" d="M470.5,521.2v25.1"/><path class="e" d="M473.7,541.9v25.1"/><path class="e" d="M476.9,549.3v25.1"/><path class="e" d="M480.1,552.9v25.1"/><path class="e" d="M483.2,543.2v25.1"/><path class="e" d="M486.4,551.6v25.1"/><path class="e" d="M489.6,550.6v25.1"/><path class="e" d="M492.8,579v25.1"/><path class="e" d="M496,571.2v25.1"/><path class="e" d="M499.1,545.1v25.1"/><path class="e" d="M502.3,587v25.1"/><path class="e" d="M505.5,562.8v25.1"/><path class="e" d="M508.7,580.9v25.1"/><path class="e" d="M511.8,569.9v25.1"/><path class="e" d="M515,601.9v25.1"/><path class="e" d="M518.2,594.5v25.1"/><path class="e" d="M521.4,578.6v25.1"/><path class="e" d="M524.6,613.5v25.1"/><path class="e" d="M527.7,587v25.1"/><path class="e" d="M530.9,604.2v25.1"/><path class="e" d="M534.1,577.7v25.1"/><path class="e" d="M537.3,582v25.1"/><path class="e" d="M540.4,608.5v25.1"/><path class="e" d="M543.6,583.3v25.1"/><path class="e" d="M546.8,587.6v25.1"/><path class="e" d="M550,600.1v25.1"/><path class="e" d="M553.2,540v25.1"/><path class="e" d="M556.3,593.9v25.1"/><path class="e" d="M559.5,618.7v25.1"/><path class="e" d="M562.7,578.6v25.1"/><path class="e" d="M565.9,570.6v25.1"/><path class="e" d="M569,552.1v25.1"/><path class="e" d="M572.2,575.8v25.1"/><path class="e" d="M575.4,600.1v25.1"/><path class="e" d="M578.6,548.8v25.1"/><path class="e" d="M581.8,562.8v25.1"/><path class="e" d="M584.9,542.3v25.1"/><path class="e" d="M588.1,576.2v25.1"/><path class="e" d="M591.3,544.1v25.1"/><path class="e" d="M594.5,568.4v25.1"/><path class="e" d="M597.6,571.2v25.1"/><path class="e" d="M600.8,522.1v25.1"/><path class="e" d="M604,562.4v25.1"/><path class="e" d="M607.2,538.5v25.1"/><path class="e" d="M610.4,547.8v25.1"/><path class="e" d="M613.5,546.9v25.1"/><path class="e" d="M616.7,568v25.1"/><path class="e" d="M619.9,555.3v25.1"/><path class="e" d="M623.1,550.6v25.1"/><path class="e" d="M626.2,538.9v25.1"/><path class="e" d="M629.4,554.7v25.1"/><path class="e" d="M632.6,532v25.1"/><path class="e" d="M635.8,562.8v25.1"/><path class="e" d="M639,570.6v25.1"/><path class="e" d="M642.1,542.3v25.1"/><path class="e" d="M645.3,543.7v25.1"/><path class="e" d="M648.5,536.7v25.1"/><path class="e" d="M651.7,565.6v25.1"/><path class="e" d="M654.9,513.3v25.1"/><path class="e" d="M658,548.2v25.1"/><path class="e" d="M661.2,543.7v25.1"/><path class="e" d="M664.4,532v25.1"/><path class="e" d="M667.6,549.2v25.1"/><path class="e" d="M670.7,572.1v25.1"/><path class="e" d="M673.9,558.1v25.1"/><path class="e" d="M677.1,564.1v25.1"/><path class="e" d="M680.3,545.1v25.1"/><path class="e" d="M683.5,556.6v25.1"/><path class="e" d="M686.6,572.5v25.1"/><path class="e" d="M689.8,545.4v25.1"/><path class="e" d="M693,568.4v25.1"/><path class="e" d="M696.2,551v25.1"/><path class="e" d="M699.3,611.8v25.1"/><path class="e" d="M702.5,570.2v25.1"/><path class="e" d="M705.7,579v25.1"/><path class="e" d="M708.9,588.5v25.1"/><path class="e" d="M712.1,593.9v25.1"/><path class="e" d="M715.2,583.7v25.1"/><path class="e" d="M718.4,584.2v25.1"/><path class="e" d="M721.6,593.9v25.1"/><path class="e" d="M724.8,558.7v25.1"/>
<circle class="m" cx="101.9" cy="599.6" r="3.7"/><circle class="m" cx="105.1" cy="627.6" r="3.7"/><circle class="m" cx="108.2" cy="583.2" r="3.7"/><circle class="m" cx="111.4" cy="569.7" r="3.7"/><circle class="m" cx="114.6" cy="615.6" r="3.7"/><circle class="m" cx="117.8" cy="592.1" r="3.7"/><circle class="m" cx="120.9" cy="570.1" r="3.7"/><circle class="m" cx="124.1" cy="584.1" r="3.7"/><circle class="m" cx="127.3" cy="575.7" r="3.7"/><circle class="m" cx="130.5" cy="591.2" r="3.7"/><circle class="m" cx="133.7" cy="594.9" r="3.7"/><circle class="m" cx="136.8" cy="580" r="3.7"/><circle class="m" cx="140" cy="572.9" r="3.7"/><circle class="m" cx="143.2" cy="595.9" r="3.7"/><circle class="m" cx="146.4" cy="597.3" r="3.7"/><circle class="m" cx="149.6" cy="579.4" r="3.7"/><circle class="m" cx="152.7" cy="574.4" r="3.7"/><circle class="m" cx="155.9" cy="572.5" r="3.7"/><circle class="m" cx="159.1" cy="565.3" r="3.7"/><circle class="m" cx="162.3" cy="554.5" r="3.7"/><circle class="m" cx="165.4" cy="574.8" r="3.7"/><circle class="m" cx="168.6" cy="587.5" r="3.7"/><circle class="m" cx="171.8" cy="579.4" r="3.7"/><circle class="m" cx="175" cy="569.7" r="3.7"/><circle class="m" cx="178.2" cy="586.2" r="3.7"/><circle class="m" cx="181.3" cy="593.6" r="3.7"/><circle class="m" cx="184.5" cy="547.4" r="3.7"/><circle class="m" cx="187.7" cy="566.4" r="3.7"/><circle class="m" cx="190.9" cy="565.5" r="3.7"/><circle class="m" cx="194" cy="567.5" r="3.7"/><circle class="m" cx="197.2" cy="544.6" r="3.7"/><circle class="m" cx="200.4" cy="550.2" r="3.7"/><circle class="m" cx="203.6" cy="572.2" r="3.7"/><circle class="m" cx="206.8" cy="547.4" r="3.7"/><circle class="m" cx="209.9" cy="554.1" r="3.7"/><circle class="m" cx="213.1" cy="559.5" r="3.7"/><circle class="m" cx="216.3" cy="586.2" r="3.7"/><circle class="m" cx="219.5" cy="547.7" r="3.7"/><circle class="m" cx="222.6" cy="568.4" r="3.7"/><circle class="m" cx="225.8" cy="544.6" r="3.7"/><circle class="m" cx="229" cy="550.2" r="3.7"/><circle class="m" cx="232.2" cy="537.1" r="3.7"/><circle class="m" cx="235.4" cy="532.1" r="3.7"/><circle class="m" cx="238.5" cy="538.4" r="3.7"/><circle class="m" cx="241.7" cy="539.9" r="3.7"/><circle class="m" cx="244.9" cy="539.3" r="3.7"/><circle class="m" cx="248.1" cy="578.5" r="3.7"/><circle class="m" cx="251.2" cy="555.4" r="3.7"/><circle class="m" cx="254.4" cy="562.3" r="3.7"/><circle class="m" cx="257.6" cy="562.3" r="3.7"/><circle class="m" cx="260.8" cy="552" r="3.7"/><circle class="m" cx="264" cy="566" r="3.7"/><circle class="m" cx="267.1" cy="553.5" r="3.7"/><circle class="m" cx="270.3" cy="521.6" r="3.7"/><circle class="m" cx="273.5" cy="548.3" r="3.7"/><circle class="m" cx="276.7" cy="571.2" r="3.7"/><circle class="m" cx="279.8" cy="556.3" r="3.7"/><circle class="m" cx="283" cy="554.8" r="3.7"/><circle class="m" cx="286.2" cy="566" r="3.7"/><circle class="m" cx="289.4" cy="585.6" r="3.7"/><circle class="m" cx="292.6" cy="550.5" r="3.7"/><circle class="m" cx="295.7" cy="578.1" r="3.7"/><circle class="m" cx="298.9" cy="562.8" r="3.7"/><circle class="m" cx="302.1" cy="580.6" r="3.7"/><circle class="m" cx="305.3" cy="573.5" r="3.7"/><circle class="m" cx="308.4" cy="583.7" r="3.7"/><circle class="m" cx="311.6" cy="583.7" r="3.7"/><circle class="m" cx="314.8" cy="602.8" r="3.7"/><circle class="m" cx="318" cy="591.2" r="3.7"/><circle class="m" cx="321.2" cy="581.9" r="3.7"/><circle class="m" cx="324.3" cy="601.4" r="3.7"/><circle class="m" cx="327.5" cy="583.7" r="3.7"/><circle class="m" cx="330.7" cy="586.2" r="3.7"/><circle class="m" cx="333.9" cy="602" r="3.7"/><circle class="m" cx="337.1" cy="612.3" r="3.7"/><circle class="m" cx="340.2" cy="596.8" r="3.7"/><circle class="m" cx="343.4" cy="617.3" r="3.7"/><circle class="m" cx="346.6" cy="600.9" r="3.7"/><circle class="m" cx="349.8" cy="602" r="3.7"/><circle class="m" cx="352.9" cy="594.5" r="3.7"/><circle class="m" cx="356.1" cy="604.8" r="3.7"/><circle class="m" cx="359.3" cy="604.8" r="3.7"/><circle class="m" cx="362.5" cy="586.2" r="3.7"/><circle class="m" cx="365.7" cy="596.8" r="3.7"/><circle class="m" cx="368.8" cy="599.6" r="3.7"/><circle class="m" cx="372" cy="616.7" r="3.7"/><circle class="m" cx="375.2" cy="622.3" r="3.7"/><circle class="m" cx="378.4" cy="602.4" r="3.7"/><circle class="m" cx="381.5" cy="588.4" r="3.7"/><circle class="m" cx="384.7" cy="578.5" r="3.7"/><circle class="m" cx="387.9" cy="569.7" r="3.7"/><circle class="m" cx="391.1" cy="588.8" r="3.7"/><circle class="m" cx="394.3" cy="541.8" r="3.7"/><circle class="m" cx="397.4" cy="543.6" r="3.7"/><circle class="m" cx="400.6" cy="585" r="3.7"/><circle class="m" cx="403.8" cy="577.2" r="3.7"/><circle class="m" cx="407" cy="578.1" r="3.7"/><circle class="m" cx="410.1" cy="566.6" r="3.7"/><circle class="m" cx="413.3" cy="518.1" r="3.7"/><circle class="m" cx="416.5" cy="557.6" r="3.7"/><circle class="m" cx="419.7" cy="566" r="3.7"/><circle class="m" cx="422.9" cy="607" r="3.7"/><circle class="m" cx="426" cy="601.8" r="3.7"/><circle class="m" cx="429.2" cy="556.7" r="3.7"/><circle class="m" cx="432.4" cy="526.8" r="3.7"/><circle class="m" cx="435.6" cy="543.6" r="3.7"/><circle class="m" cx="438.7" cy="563.6" r="3.7"/><circle class="m" cx="441.9" cy="592.5" r="3.7"/><circle class="m" cx="445.1" cy="621.4" r="3.7"/><circle class="m" cx="448.3" cy="642.5" r="3.7"/><circle class="m" cx="451.5" cy="600.5" r="3.7"/><circle class="m" cx="454.6" cy="554.5" r="3.7"/><circle class="m" cx="457.8" cy="531.5" r="3.7"/><circle class="m" cx="461" cy="550.2" r="3.7"/><circle class="m" cx="464.2" cy="551.5" r="3.7"/><circle class="m" cx="467.3" cy="568.8" r="3.7"/><circle class="m" cx="470.5" cy="533.7" r="3.7"/><circle class="m" cx="473.7" cy="554.5" r="3.7"/><circle class="m" cx="476.9" cy="561.9" r="3.7"/><circle class="m" cx="480.1" cy="565.5" r="3.7"/><circle class="m" cx="483.2" cy="555.8" r="3.7"/><circle class="m" cx="486.4" cy="564.1" r="3.7"/><circle class="m" cx="489.6" cy="563.2" r="3.7"/><circle class="m" cx="492.8" cy="591.6" r="3.7"/><circle class="m" cx="496" cy="583.7" r="3.7"/><circle class="m" cx="499.1" cy="557.6" r="3.7"/><circle class="m" cx="502.3" cy="599.6" r="3.7"/><circle class="m" cx="505.5" cy="575.3" r="3.7"/><circle class="m" cx="508.7" cy="593.4" r="3.7"/><circle class="m" cx="511.8" cy="582.4" r="3.7"/><circle class="m" cx="515" cy="614.5" r="3.7"/><circle class="m" cx="518.2" cy="607" r="3.7"/><circle class="m" cx="521.4" cy="591.2" r="3.7"/><circle class="m" cx="524.6" cy="626.1" r="3.7"/><circle class="m" cx="527.7" cy="599.6" r="3.7"/><circle class="m" cx="530.9" cy="616.7" r="3.7"/><circle class="m" cx="534.1" cy="590.3" r="3.7"/><circle class="m" cx="537.3" cy="594.5" r="3.7"/><circle class="m" cx="540.4" cy="621" r="3.7"/><circle class="m" cx="543.6" cy="595.9" r="3.7"/><circle class="m" cx="546.8" cy="600.1" r="3.7"/><circle class="m" cx="550" cy="612.6" r="3.7"/><circle class="m" cx="553.2" cy="552.6" r="3.7"/><circle class="m" cx="556.3" cy="606.5" r="3.7"/><circle class="m" cx="559.5" cy="631.3" r="3.7"/><circle class="m" cx="562.7" cy="591.2" r="3.7"/><circle class="m" cx="565.9" cy="583.2" r="3.7"/><circle class="m" cx="569" cy="564.7" r="3.7"/><circle class="m" cx="572.2" cy="588.4" r="3.7"/><circle class="m" cx="575.4" cy="612.6" r="3.7"/><circle class="m" cx="578.6" cy="561.4" r="3.7"/><circle class="m" cx="581.8" cy="575.3" r="3.7"/><circle class="m" cx="584.9" cy="554.8" r="3.7"/><circle class="m" cx="588.1" cy="588.8" r="3.7"/><circle class="m" cx="591.3" cy="556.7" r="3.7"/><circle class="m" cx="594.5" cy="580.9" r="3.7"/><circle class="m" cx="597.6" cy="583.7" r="3.7"/><circle class="m" cx="600.8" cy="534.7" r="3.7"/><circle class="m" cx="604" cy="575" r="3.7"/><circle class="m" cx="607.2" cy="551.1" r="3.7"/><circle class="m" cx="610.4" cy="560.4" r="3.7"/><circle class="m" cx="613.5" cy="559.5" r="3.7"/><circle class="m" cx="616.7" cy="580.6" r="3.7"/><circle class="m" cx="619.9" cy="567.9" r="3.7"/><circle class="m" cx="623.1" cy="563.2" r="3.7"/><circle class="m" cx="626.2" cy="551.5" r="3.7"/><circle class="m" cx="629.4" cy="567.3" r="3.7"/><circle class="m" cx="632.6" cy="544.6" r="3.7"/><circle class="m" cx="635.8" cy="575.3" r="3.7"/><circle class="m" cx="639" cy="583.2" r="3.7"/><circle class="m" cx="642.1" cy="554.8" r="3.7"/><circle class="m" cx="645.3" cy="556.3" r="3.7"/><circle class="m" cx="648.5" cy="549.2" r="3.7"/><circle class="m" cx="651.7" cy="578.1" r="3.7"/><circle class="m" cx="654.9" cy="525.9" r="3.7"/><circle class="m" cx="658" cy="560.8" r="3.7"/><circle class="m" cx="661.2" cy="556.3" r="3.7"/><circle class="m" cx="664.4" cy="544.6" r="3.7"/><circle class="m" cx="667.6" cy="561.7" r="3.7"/><circle class="m" cx="670.7" cy="584.7" r="3.7"/><circle class="m" cx="673.9" cy="570.7" r="3.7"/><circle class="m" cx="677.1" cy="576.6" r="3.7"/><circle class="m" cx="680.3" cy="557.6" r="3.7"/><circle class="m" cx="683.5" cy="569.2" r="3.7"/><circle class="m" cx="686.6" cy="585" r="3.7"/><circle class="m" cx="689.8" cy="558" r="3.7"/><circle class="m" cx="693" cy="580.9" r="3.7"/><circle class="m" cx="696.2" cy="563.6" r="3.7"/><circle class="m" cx="699.3" cy="624.4" r="3.7"/><circle class="m" cx="702.5" cy="582.8" r="3.7"/><circle class="m" cx="705.7" cy="591.6" r="3.7"/><circle class="m" cx="708.9" cy="601.1" r="3.7"/><circle class="m" cx="712.1" cy="606.5" r="3.7"/><circle class="m" cx="715.2" cy="596.2" r="3.7"/><circle class="m" cx="718.4" cy="596.8" r="3.7"/><circle class="m" cx="721.6" cy="606.5" r="3.7"/><circle class="m" cx="724.8" cy="571.2" r="3.7"/>
</g>
<clipPath id="cc"><rect x="919" y="300" width="677.1" height="368"/></clipPath>
<g class="b" clip-path="url(#cc)">
<path class="e" d="M919.7,406.2v25.1"/><path class="e" d="M927.8,392.9v25.1"/><path class="e" d="M936,392.5v25.1"/><path class="e" d="M944.1,393.2v25.1"/><path class="e" d="M952.2,361.2v25.1"/><path class="e" d="M960.4,357.2v25.1"/><path class="e" d="M968.5,411.6v25.1"/><path class="e" d="M976.6,400.1v25.1"/><path class="e" d="M984.7,379v25.1"/><path class="e" d="M992.9,371.6v25.1"/><path class="e" d="M1001,343.2v25.1"/><path class="e" d="M1009.1,398.4v25.1"/><path class="e" d="M1017.3,411.9v25.1"/><path class="e" d="M1025.4,412.3v25.1"/><path class="e" d="M1033.5,420.8v25.1"/><path class="e" d="M1041.7,372.4v25.1"/><path class="e" d="M1049.8,367.6v25.1"/><path class="e" d="M1057.9,405.3v25.1"/><path class="e" d="M1066,372.4v25.1"/><path class="e" d="M1074.2,372.4v25.1"/><path class="e" d="M1082.3,378.2v25.1"/><path class="e" d="M1090.4,386.5v25.1"/><path class="e" d="M1098.6,400.3v25.1"/><path class="e" d="M1106.7,392.4v25.1"/><path class="e" d="M1114.8,378.2v25.1"/><path class="e" d="M1123,370v25.1"/><path class="e" d="M1131.1,359.8v25.1"/><path class="e" d="M1139.2,381.1v25.1"/><path class="e" d="M1147.3,380.8v25.1"/><path class="e" d="M1155.5,371.2v25.1"/><path class="e" d="M1163.6,378.5v25.1"/><path class="e" d="M1171.7,377.8v25.1"/><path class="e" d="M1179.9,396.3v25.1"/><path class="e" d="M1188,379v25.1"/><path class="e" d="M1196.1,396.3v25.1"/><path class="e" d="M1204.2,389.1v25.1"/><path class="e" d="M1212.4,375.9v25.1"/><path class="e" d="M1220.5,375.9v25.1"/><path class="e" d="M1228.6,394.6v25.1"/><path class="e" d="M1236.8,378.7v25.1"/><path class="e" d="M1244.9,391.5v25.1"/><path class="e" d="M1253,405v25.1"/><path class="e" d="M1261.2,388.2v25.1"/><path class="e" d="M1269.3,392v25.1"/><path class="e" d="M1277.4,383.7v25.1"/><path class="e" d="M1285.6,393.4v25.1"/><path class="e" d="M1293.7,379v25.1"/><path class="e" d="M1301.8,395.5v25.1"/><path class="e" d="M1309.9,370.7v25.1"/><path class="e" d="M1318.1,409v25.1"/><path class="e" d="M1326.2,389.9v25.1"/><path class="e" d="M1334.3,379v25.1"/><path class="e" d="M1342.5,382.5v25.1"/><path class="e" d="M1350.6,399.8v25.1"/><path class="e" d="M1358.7,377.3v25.1"/><path class="e" d="M1366.9,347.3v25.1"/><path class="e" d="M1375,383.4v25.1"/><path class="e" d="M1383.1,396v25.1"/><path class="e" d="M1391.2,378.2v25.1"/><path class="e" d="M1399.4,395.1v25.1"/><path class="e" d="M1407.5,397.2v25.1"/><path class="e" d="M1415.6,390.8v25.1"/><path class="e" d="M1423.8,405v25.1"/><path class="e" d="M1431.9,371.2v25.1"/><path class="e" d="M1440,376.4v25.1"/><path class="e" d="M1448.2,369.2v25.1"/><path class="e" d="M1456.3,365.2v25.1"/><path class="e" d="M1464.4,366.9v25.1"/><path class="e" d="M1472.5,379.9v25.1"/><path class="e" d="M1480.7,372.4v25.1"/><path class="e" d="M1488.8,397.5v25.1"/><path class="e" d="M1496.9,375.2v25.1"/><path class="e" d="M1505.1,410.5v25.1"/><path class="e" d="M1513.2,380.8v25.1"/><path class="e" d="M1521.3,376.9v25.1"/><path class="e" d="M1529.5,370v25.1"/><path class="e" d="M1537.6,393.7v25.1"/><path class="e" d="M1545.7,371.2v25.1"/><path class="e" d="M1553.8,367.3v25.1"/><path class="e" d="M1562,386.5v25.1"/><path class="e" d="M1570.1,383.4v25.1"/><path class="e" d="M1578.2,383.7v25.1"/><path class="e" d="M1586.4,362.2v25.1"/><path class="e" d="M1594.5,409.3v25.1"/>
<circle class="m" cx="919.7" cy="418.8" r="3.7"/><circle class="m" cx="927.8" cy="405.4" r="3.7"/><circle class="m" cx="936" cy="405.1" r="3.7"/><circle class="m" cx="944.1" cy="405.8" r="3.7"/><circle class="m" cx="952.2" cy="373.8" r="3.7"/><circle class="m" cx="960.4" cy="369.8" r="3.7"/><circle class="m" cx="968.5" cy="424.1" r="3.7"/><circle class="m" cx="976.6" cy="412.7" r="3.7"/><circle class="m" cx="984.7" cy="391.6" r="3.7"/><circle class="m" cx="992.9" cy="384.1" r="3.7"/><circle class="m" cx="1001" cy="355.8" r="3.7"/><circle class="m" cx="1009.1" cy="411" r="3.7"/><circle class="m" cx="1017.3" cy="424.5" r="3.7"/><circle class="m" cx="1025.4" cy="424.8" r="3.7"/><circle class="m" cx="1033.5" cy="433.3" r="3.7"/><circle class="m" cx="1041.7" cy="385" r="3.7"/><circle class="m" cx="1049.8" cy="380.2" r="3.7"/><circle class="m" cx="1057.9" cy="417.9" r="3.7"/><circle class="m" cx="1066" cy="385" r="3.7"/><circle class="m" cx="1074.2" cy="385" r="3.7"/><circle class="m" cx="1082.3" cy="390.7" r="3.7"/><circle class="m" cx="1090.4" cy="399" r="3.7"/><circle class="m" cx="1098.6" cy="412.9" r="3.7"/><circle class="m" cx="1106.7" cy="404.9" r="3.7"/><circle class="m" cx="1114.8" cy="390.7" r="3.7"/><circle class="m" cx="1123" cy="382.6" r="3.7"/><circle class="m" cx="1131.1" cy="372.4" r="3.7"/><circle class="m" cx="1139.2" cy="393.7" r="3.7"/><circle class="m" cx="1147.3" cy="393.3" r="3.7"/><circle class="m" cx="1155.5" cy="383.8" r="3.7"/><circle class="m" cx="1163.6" cy="391.1" r="3.7"/><circle class="m" cx="1171.7" cy="390.4" r="3.7"/><circle class="m" cx="1179.9" cy="408.9" r="3.7"/><circle class="m" cx="1188" cy="391.6" r="3.7"/><circle class="m" cx="1196.1" cy="408.9" r="3.7"/><circle class="m" cx="1204.2" cy="401.6" r="3.7"/><circle class="m" cx="1212.4" cy="388.5" r="3.7"/><circle class="m" cx="1220.5" cy="388.5" r="3.7"/><circle class="m" cx="1228.6" cy="407.2" r="3.7"/><circle class="m" cx="1236.8" cy="391.2" r="3.7"/><circle class="m" cx="1244.9" cy="404.1" r="3.7"/><circle class="m" cx="1253" cy="417.6" r="3.7"/><circle class="m" cx="1261.2" cy="400.8" r="3.7"/><circle class="m" cx="1269.3" cy="404.6" r="3.7"/><circle class="m" cx="1277.4" cy="396.3" r="3.7"/><circle class="m" cx="1285.6" cy="406" r="3.7"/><circle class="m" cx="1293.7" cy="391.6" r="3.7"/><circle class="m" cx="1301.8" cy="408" r="3.7"/><circle class="m" cx="1309.9" cy="383.3" r="3.7"/><circle class="m" cx="1318.1" cy="421.5" r="3.7"/><circle class="m" cx="1326.2" cy="402.5" r="3.7"/><circle class="m" cx="1334.3" cy="391.6" r="3.7"/><circle class="m" cx="1342.5" cy="395.1" r="3.7"/><circle class="m" cx="1350.6" cy="412.4" r="3.7"/><circle class="m" cx="1358.7" cy="389.9" r="3.7"/><circle class="m" cx="1366.9" cy="359.9" r="3.7"/><circle class="m" cx="1375" cy="395.9" r="3.7"/><circle class="m" cx="1383.1" cy="408.6" r="3.7"/><circle class="m" cx="1391.2" cy="390.7" r="3.7"/><circle class="m" cx="1399.4" cy="407.7" r="3.7"/><circle class="m" cx="1407.5" cy="409.8" r="3.7"/><circle class="m" cx="1415.6" cy="403.4" r="3.7"/><circle class="m" cx="1423.8" cy="417.6" r="3.7"/><circle class="m" cx="1431.9" cy="383.8" r="3.7"/><circle class="m" cx="1440" cy="389" r="3.7"/><circle class="m" cx="1448.2" cy="381.7" r="3.7"/><circle class="m" cx="1456.3" cy="377.7" r="3.7"/><circle class="m" cx="1464.4" cy="379.5" r="3.7"/><circle class="m" cx="1472.5" cy="392.5" r="3.7"/><circle class="m" cx="1480.7" cy="385" r="3.7"/><circle class="m" cx="1488.8" cy="410.1" r="3.7"/><circle class="m" cx="1496.9" cy="387.8" r="3.7"/><circle class="m" cx="1505.1" cy="423.1" r="3.7"/><circle class="m" cx="1513.2" cy="393.3" r="3.7"/><circle class="m" cx="1521.3" cy="389.5" r="3.7"/><circle class="m" cx="1529.5" cy="382.6" r="3.7"/><circle class="m" cx="1537.6" cy="406.3" r="3.7"/><circle class="m" cx="1545.7" cy="383.8" r="3.7"/><circle class="m" cx="1553.8" cy="379.8" r="3.7"/><circle class="m" cx="1562" cy="399" r="3.7"/><circle class="m" cx="1570.1" cy="395.9" r="3.7"/><circle class="m" cx="1578.2" cy="396.3" r="3.7"/><circle class="m" cx="1586.4" cy="374.8" r="3.7"/><circle class="m" cx="1594.5" cy="421.9" r="3.7"/>
</g>
<g class="r" clip-path="url(#cc)">
<path class="e" d="M924.2,411.9v25.1"/><path class="e" d="M932.3,381.1v25.1"/><path class="e" d="M940.5,360.3v25.1"/><path class="e" d="M948.6,367.3v25.1"/><path class="e" d="M956.7,400.1v25.1"/><path class="e" d="M964.9,395.5v25.1"/><path class="e" d="M973,413.1v25.1"/><path class="e" d="M981.1,373v25.1"/><path class="e" d="M989.2,387.3v25.1"/><path class="e" d="M997.4,389.9v25.1"/><path class="e" d="M1005.5,394.3v25.1"/><path class="e" d="M1013.6,378.5v25.1"/><path class="e" d="M1021.8,378.5v25.1"/><path class="e" d="M1029.9,371.6v25.1"/><path class="e" d="M1038,394.8v25.1"/><path class="e" d="M1046.2,382.1v25.1"/><path class="e" d="M1054.3,353.2v25.1"/><path class="e" d="M1062.4,390.3v25.1"/><path class="e" d="M1070.5,364.8v25.1"/><path class="e" d="M1078.7,378.2v25.1"/><path class="e" d="M1086.8,367.4v25.1"/><path class="e" d="M1094.9,396.9v25.1"/><path class="e" d="M1103.1,392.9v25.1"/><path class="e" d="M1111.2,372.4v25.1"/><path class="e" d="M1119.3,404.1v25.1"/><path class="e" d="M1127.5,381.1v25.1"/><path class="e" d="M1135.6,395.5v25.1"/><path class="e" d="M1143.7,370.4v25.1"/><path class="e" d="M1151.8,375.2v25.1"/><path class="e" d="M1160,402.7v25.1"/><path class="e" d="M1168.1,381.6v25.1"/><path class="e" d="M1176.2,385.1v25.1"/><path class="e" d="M1184.4,401.5v25.1"/><path class="e" d="M1192.5,343.9v25.1"/><path class="e" d="M1200.6,398.9v25.1"/><path class="e" d="M1208.8,427v25.1"/><path class="e" d="M1216.9,388.5v25.1"/><path class="e" d="M1225,382.8v25.1"/><path class="e" d="M1233.1,368.1v25.1"/><path class="e" d="M1241.3,393.7v25.1"/><path class="e" d="M1249.4,420.9v25.1"/><path class="e" d="M1257.5,371.6v25.1"/><path class="e" d="M1265.7,387.7v25.1"/><path class="e" d="M1273.8,368.5v25.1"/><path class="e" d="M1281.9,406.2v25.1"/><path class="e" d="M1290.1,374.7v25.1"/><path class="e" d="M1298.2,400.7v25.1"/><path class="e" d="M1306.3,404.6v25.1"/><path class="e" d="M1314.4,357.9v25.1"/><path class="e" d="M1322.6,398.9v25.1"/><path class="e" d="M1330.7,378.5v25.1"/><path class="e" d="M1338.8,382.8v25.1"/><path class="e" d="M1347,384.2v25.1"/><path class="e" d="M1355.1,403.6v25.1"/><path class="e" d="M1363.2,393.4v25.1"/><path class="e" d="M1371.4,388.5v25.1"/><path class="e" d="M1379.5,375.6v25.1"/><path class="e" d="M1387.6,395.1v25.1"/><path class="e" d="M1395.7,375.6v25.1"/><path class="e" d="M1403.9,398.9v25.1"/><path class="e" d="M1412,410.2v25.1"/><path class="e" d="M1420.1,380.8v25.1"/><path class="e" d="M1428.3,381.1v25.1"/><path class="e" d="M1436.4,372.6v25.1"/><path class="e" d="M1444.5,398.9v25.1"/><path class="e" d="M1452.7,345.8v25.1"/><path class="e" d="M1460.8,381.6v25.1"/><path class="e" d="M1468.9,378.2v25.1"/><path class="e" d="M1477,364.8v25.1"/><path class="e" d="M1485.2,382.1v25.1"/><path class="e" d="M1493.3,406.4v25.1"/><path class="e" d="M1501.4,389.4v25.1"/><path class="e" d="M1509.6,392.5v25.1"/><path class="e" d="M1517.7,373v25.1"/><path class="e" d="M1525.8,383v25.1"/><path class="e" d="M1534,395.1v25.1"/><path class="e" d="M1542.1,369.2v25.1"/><path class="e" d="M1550.2,391.1v25.1"/><path class="e" d="M1558.3,373v25.1"/><path class="e" d="M1574.6,389.9v25.1"/><path class="e" d="M1582.7,397.5v25.1"/><path class="e" d="M1590.9,405.5v25.1"/>
<circle class="m" cx="924.2" cy="424.5" r="3.7"/><circle class="m" cx="932.3" cy="393.7" r="3.7"/><circle class="m" cx="940.5" cy="372.9" r="3.7"/><circle class="m" cx="948.6" cy="379.8" r="3.7"/><circle class="m" cx="956.7" cy="412.7" r="3.7"/><circle class="m" cx="964.9" cy="408" r="3.7"/><circle class="m" cx="973" cy="425.7" r="3.7"/><circle class="m" cx="981.1" cy="385.5" r="3.7"/><circle class="m" cx="989.2" cy="399.9" r="3.7"/><circle class="m" cx="997.4" cy="402.5" r="3.7"/><circle class="m" cx="1005.5" cy="406.8" r="3.7"/><circle class="m" cx="1013.6" cy="391.1" r="3.7"/><circle class="m" cx="1021.8" cy="391.1" r="3.7"/><circle class="m" cx="1029.9" cy="384.1" r="3.7"/><circle class="m" cx="1038" cy="407.3" r="3.7"/><circle class="m" cx="1046.2" cy="394.7" r="3.7"/><circle class="m" cx="1054.3" cy="365.8" r="3.7"/><circle class="m" cx="1062.4" cy="402.8" r="3.7"/><circle class="m" cx="1070.5" cy="377.4" r="3.7"/><circle class="m" cx="1078.7" cy="390.7" r="3.7"/><circle class="m" cx="1086.8" cy="380" r="3.7"/><circle class="m" cx="1094.9" cy="409.4" r="3.7"/><circle class="m" cx="1103.1" cy="405.4" r="3.7"/><circle class="m" cx="1111.2" cy="385" r="3.7"/><circle class="m" cx="1119.3" cy="416.7" r="3.7"/><circle class="m" cx="1127.5" cy="393.7" r="3.7"/><circle class="m" cx="1135.6" cy="408" r="3.7"/><circle class="m" cx="1143.7" cy="382.9" r="3.7"/><circle class="m" cx="1151.8" cy="387.8" r="3.7"/><circle class="m" cx="1160" cy="415.3" r="3.7"/><circle class="m" cx="1168.1" cy="394.2" r="3.7"/><circle class="m" cx="1176.2" cy="397.7" r="3.7"/><circle class="m" cx="1184.4" cy="414.1" r="3.7"/><circle class="m" cx="1192.5" cy="356.4" r="3.7"/><circle class="m" cx="1200.6" cy="411.5" r="3.7"/><circle class="m" cx="1208.8" cy="439.6" r="3.7"/><circle class="m" cx="1216.9" cy="401.1" r="3.7"/><circle class="m" cx="1225" cy="395.4" r="3.7"/><circle class="m" cx="1233.1" cy="380.7" r="3.7"/><circle class="m" cx="1241.3" cy="406.3" r="3.7"/><circle class="m" cx="1249.4" cy="433.5" r="3.7"/><circle class="m" cx="1257.5" cy="384.1" r="3.7"/><circle class="m" cx="1265.7" cy="400.3" r="3.7"/><circle class="m" cx="1273.8" cy="381" r="3.7"/><circle class="m" cx="1281.9" cy="418.8" r="3.7"/><circle class="m" cx="1290.1" cy="387.3" r="3.7"/><circle class="m" cx="1298.2" cy="413.2" r="3.7"/><circle class="m" cx="1306.3" cy="417.2" r="3.7"/><circle class="m" cx="1314.4" cy="370.5" r="3.7"/><circle class="m" cx="1322.6" cy="411.5" r="3.7"/><circle class="m" cx="1330.7" cy="391.1" r="3.7"/><circle class="m" cx="1338.8" cy="395.4" r="3.7"/><circle class="m" cx="1347" cy="396.8" r="3.7"/><circle class="m" cx="1355.1" cy="416.2" r="3.7"/><circle class="m" cx="1363.2" cy="406" r="3.7"/><circle class="m" cx="1371.4" cy="401.1" r="3.7"/><circle class="m" cx="1379.5" cy="388.1" r="3.7"/><circle class="m" cx="1387.6" cy="407.7" r="3.7"/><circle class="m" cx="1395.7" cy="388.1" r="3.7"/><circle class="m" cx="1403.9" cy="411.5" r="3.7"/><circle class="m" cx="1412" cy="422.8" r="3.7"/><circle class="m" cx="1420.1" cy="393.3" r="3.7"/><circle class="m" cx="1428.3" cy="393.7" r="3.7"/><circle class="m" cx="1436.4" cy="385.2" r="3.7"/><circle class="m" cx="1444.5" cy="411.5" r="3.7"/><circle class="m" cx="1452.7" cy="358.4" r="3.7"/><circle class="m" cx="1460.8" cy="394.2" r="3.7"/><circle class="m" cx="1468.9" cy="390.7" r="3.7"/><circle class="m" cx="1477" cy="377.4" r="3.7"/><circle class="m" cx="1485.2" cy="394.7" r="3.7"/><circle class="m" cx="1493.3" cy="418.9" r="3.7"/><circle class="m" cx="1501.4" cy="402" r="3.7"/><circle class="m" cx="1509.6" cy="405.1" r="3.7"/><circle class="m" cx="1517.7" cy="385.5" r="3.7"/><circle class="m" cx="1525.8" cy="395.6" r="3.7"/><circle class="m" cx="1534" cy="407.7" r="3.7"/><circle class="m" cx="1542.1" cy="381.7" r="3.7"/><circle class="m" cx="1550.2" cy="403.7" r="3.7"/><circle class="m" cx="1558.3" cy="385.5" r="3.7"/><circle class="m" cx="1574.6" cy="402.5" r="3.7"/><circle class="m" cx="1582.7" cy="410.1" r="3.7"/><circle class="m" cx="1590.9" cy="418.1" r="3.7"/>
</g>
<g class="b" clip-path="url(#cc)">
<path class="e" d="M919.7,609.1v25.1"/><path class="e" d="M927.8,579.7v25.1"/><path class="e" d="M936,550.8v25.1"/><path class="e" d="M944.1,531.2v25.1"/><path class="e" d="M952.2,514v25.1"/><path class="e" d="M960.4,544.2v25.1"/><path class="e" d="M968.5,589.6v25.1"/><path class="e" d="M976.6,595v25.1"/><path class="e" d="M984.7,553.6v25.1"/><path class="e" d="M992.9,545.5v25.1"/><path class="e" d="M1001,505.4v25.1"/><path class="e" d="M1009.1,553.6v25.1"/><path class="e" d="M1017.3,566.1v25.1"/><path class="e" d="M1025.4,565.1v25.1"/><path class="e" d="M1033.5,572.6v25.1"/><path class="e" d="M1041.7,531.2v25.1"/><path class="e" d="M1049.8,529.3v25.1"/><path class="e" d="M1057.9,576.3v25.1"/><path class="e" d="M1066,557.3v25.1"/><path class="e" d="M1074.2,565.7v25.1"/><path class="e" d="M1082.3,575.9v25.1"/><path class="e" d="M1090.4,589.9v25.1"/><path class="e" d="M1098.6,609.9v25.1"/><path class="e" d="M1106.7,604.8v25.1"/><path class="e" d="M1114.8,587.1v25.1"/><path class="e" d="M1123,584.7v25.1"/><path class="e" d="M1131.1,573.7v25.1"/><path class="e" d="M1139.2,592.7v25.1"/><path class="e" d="M1147.3,592.2v25.1"/><path class="e" d="M1155.5,582.5v25.1"/><path class="e" d="M1163.6,589.6v25.1"/><path class="e" d="M1171.7,588.1v25.1"/><path class="e" d="M1179.9,604.8v25.1"/><path class="e" d="M1188,584.9v25.1"/><path class="e" d="M1196.1,599.8v25.1"/><path class="e" d="M1204.2,589.6v25.1"/><path class="e" d="M1212.4,574.1v25.1"/><path class="e" d="M1220.5,571.8v25.1"/><path class="e" d="M1228.6,589v25.1"/><path class="e" d="M1236.8,569v25.1"/><path class="e" d="M1244.9,579.1v25.1"/><path class="e" d="M1253,590.3v25.1"/><path class="e" d="M1261.2,570.7v25.1"/><path class="e" d="M1269.3,571.8v25.1"/><path class="e" d="M1277.4,561v25.1"/><path class="e" d="M1285.6,567.9v25.1"/><path class="e" d="M1293.7,550.2v25.1"/><path class="e" d="M1301.8,565.7v25.1"/><path class="e" d="M1309.9,538.1v25.1"/><path class="e" d="M1318.1,573.1v25.1"/><path class="e" d="M1326.2,553.6v25.1"/><path class="e" d="M1334.3,542v25.1"/><path class="e" d="M1342.5,543.3v25.1"/><path class="e" d="M1350.6,558.8v25.1"/><path class="e" d="M1358.7,535.8v25.1"/><path class="e" d="M1366.9,509.2v25.1"/><path class="e" d="M1375,540.9v25.1"/><path class="e" d="M1383.1,553.6v25.1"/><path class="e" d="M1391.2,539.9v25.1"/><path class="e" d="M1399.4,550.2v25.1"/><path class="e" d="M1407.5,550.2v25.1"/><path class="e" d="M1415.6,542.9v25.1"/><path class="e" d="M1423.8,566.1v25.1"/><path class="e" d="M1431.9,527.1v25.1"/><path class="e" d="M1440,528.4v25.1"/><path class="e" d="M1448.2,526.1v25.1"/><path class="e" d="M1456.3,520v25.1"/><path class="e" d="M1464.4,524.3v25.1"/><path class="e" d="M1472.5,538.1v25.1"/><path class="e" d="M1480.7,532.1v25.1"/><path class="e" d="M1488.8,556v25.1"/><path class="e" d="M1496.9,535.3v25.1"/><path class="e" d="M1505.1,573.5v25.1"/><path class="e" d="M1513.2,547v25.1"/><path class="e" d="M1521.3,541.8v25.1"/><path class="e" d="M1529.5,534.9v25.1"/><path class="e" d="M1537.6,560.1v25.1"/><path class="e" d="M1545.7,537.3v25.1"/><path class="e" d="M1553.8,532.1v25.1"/><path class="e" d="M1562,554.9v25.1"/><path class="e" d="M1570.1,552.6v25.1"/><path class="e" d="M1578.2,553.9v25.1"/><path class="e" d="M1586.4,534.9v25.1"/>
<circle class="m" cx="919.7" cy="621.7" r="3.7"/><circle class="m" cx="927.8" cy="592.2" r="3.7"/><circle class="m" cx="936" cy="563.3" r="3.7"/><circle class="m" cx="944.1" cy="543.7" r="3.7"/><circle class="m" cx="952.2" cy="526.6" r="3.7"/><circle class="m" cx="960.4" cy="556.8" r="3.7"/><circle class="m" cx="968.5" cy="602.1" r="3.7"/><circle class="m" cx="976.6" cy="607.5" r="3.7"/><circle class="m" cx="984.7" cy="566.1" r="3.7"/><circle class="m" cx="992.9" cy="558.1" r="3.7"/><circle class="m" cx="1001" cy="518" r="3.7"/><circle class="m" cx="1009.1" cy="566.1" r="3.7"/><circle class="m" cx="1017.3" cy="578.6" r="3.7"/><circle class="m" cx="1025.4" cy="577.7" r="3.7"/><circle class="m" cx="1033.5" cy="585.1" r="3.7"/><circle class="m" cx="1041.7" cy="543.7" r="3.7"/><circle class="m" cx="1049.8" cy="541.9" r="3.7"/><circle class="m" cx="1057.9" cy="588.9" r="3.7"/><circle class="m" cx="1066" cy="569.9" r="3.7"/><circle class="m" cx="1074.2" cy="578.2" r="3.7"/><circle class="m" cx="1082.3" cy="588.5" r="3.7"/><circle class="m" cx="1090.4" cy="602.5" r="3.7"/><circle class="m" cx="1098.6" cy="622.4" r="3.7"/><circle class="m" cx="1106.7" cy="617.4" r="3.7"/><circle class="m" cx="1114.8" cy="599.7" r="3.7"/><circle class="m" cx="1123" cy="597.3" r="3.7"/><circle class="m" cx="1131.1" cy="586.3" r="3.7"/><circle class="m" cx="1139.2" cy="605.3" r="3.7"/><circle class="m" cx="1147.3" cy="604.7" r="3.7"/><circle class="m" cx="1155.5" cy="595" r="3.7"/><circle class="m" cx="1163.6" cy="602.1" r="3.7"/><circle class="m" cx="1171.7" cy="600.6" r="3.7"/><circle class="m" cx="1179.9" cy="617.4" r="3.7"/><circle class="m" cx="1188" cy="597.5" r="3.7"/><circle class="m" cx="1196.1" cy="612.4" r="3.7"/><circle class="m" cx="1204.2" cy="602.1" r="3.7"/><circle class="m" cx="1212.4" cy="586.6" r="3.7"/><circle class="m" cx="1220.5" cy="584.4" r="3.7"/><circle class="m" cx="1228.6" cy="601.6" r="3.7"/><circle class="m" cx="1236.8" cy="581.6" r="3.7"/><circle class="m" cx="1244.9" cy="591.7" r="3.7"/><circle class="m" cx="1253" cy="602.9" r="3.7"/><circle class="m" cx="1261.2" cy="583.3" r="3.7"/><circle class="m" cx="1269.3" cy="584.4" r="3.7"/><circle class="m" cx="1277.4" cy="573.6" r="3.7"/><circle class="m" cx="1285.6" cy="580.5" r="3.7"/><circle class="m" cx="1293.7" cy="562.8" r="3.7"/><circle class="m" cx="1301.8" cy="578.2" r="3.7"/><circle class="m" cx="1309.9" cy="550.6" r="3.7"/><circle class="m" cx="1318.1" cy="585.7" r="3.7"/><circle class="m" cx="1326.2" cy="566.1" r="3.7"/><circle class="m" cx="1334.3" cy="554.6" r="3.7"/><circle class="m" cx="1342.5" cy="555.9" r="3.7"/><circle class="m" cx="1350.6" cy="571.3" r="3.7"/><circle class="m" cx="1358.7" cy="548.4" r="3.7"/><circle class="m" cx="1366.9" cy="521.7" r="3.7"/><circle class="m" cx="1375" cy="553.4" r="3.7"/><circle class="m" cx="1383.1" cy="566.1" r="3.7"/><circle class="m" cx="1391.2" cy="552.5" r="3.7"/><circle class="m" cx="1399.4" cy="562.8" r="3.7"/><circle class="m" cx="1407.5" cy="562.8" r="3.7"/><circle class="m" cx="1415.6" cy="555.5" r="3.7"/><circle class="m" cx="1423.8" cy="578.6" r="3.7"/><circle class="m" cx="1431.9" cy="539.6" r="3.7"/><circle class="m" cx="1440" cy="540.9" r="3.7"/><circle class="m" cx="1448.2" cy="538.7" r="3.7"/><circle class="m" cx="1456.3" cy="532.6" r="3.7"/><circle class="m" cx="1464.4" cy="536.8" r="3.7"/><circle class="m" cx="1472.5" cy="550.6" r="3.7"/><circle class="m" cx="1480.7" cy="544.7" r="3.7"/><circle class="m" cx="1488.8" cy="568.6" r="3.7"/><circle class="m" cx="1496.9" cy="547.8" r="3.7"/><circle class="m" cx="1505.1" cy="586.1" r="3.7"/><circle class="m" cx="1513.2" cy="559.6" r="3.7"/><circle class="m" cx="1521.3" cy="554.4" r="3.7"/><circle class="m" cx="1529.5" cy="547.5" r="3.7"/><circle class="m" cx="1537.6" cy="572.7" r="3.7"/><circle class="m" cx="1545.7" cy="549.9" r="3.7"/><circle class="m" cx="1553.8" cy="544.7" r="3.7"/><circle class="m" cx="1562" cy="567.4" r="3.7"/><circle class="m" cx="1570.1" cy="565.2" r="3.7"/><circle class="m" cx="1578.2" cy="566.5" r="3.7"/><circle class="m" cx="1586.4" cy="547.5" r="3.7"/>
</g>
<g class="r" clip-path="url(#cc)">
<path class="e" d="M924.2,630v25.1"/><path class="e" d="M932.3,588.1v25.1"/><path class="e" d="M940.5,541.4v25.1"/><path class="e" d="M948.6,519.4v25.1"/><path class="e" d="M956.7,538.3v25.1"/><path class="e" d="M964.9,539v25.1"/><path class="e" d="M973,556.4v25.1"/><path class="e" d="M981.1,521.3v25.1"/><path class="e" d="M989.2,541.8v25.1"/><path class="e" d="M997.4,549.5v25.1"/><path class="e" d="M1005.5,553.6v25.1"/><path class="e" d="M1013.6,543.7v25.1"/><path class="e" d="M1021.8,551.3v25.1"/><path class="e" d="M1029.9,550.8v25.1"/><path class="e" d="M1038,579.1v25.1"/><path class="e" d="M1046.2,570.9v25.1"/><path class="e" d="M1054.3,545.4v25.1"/><path class="e" d="M1062.4,587.1v25.1"/><path class="e" d="M1070.5,562.9v25.1"/><path class="e" d="M1078.7,581.2v25.1"/><path class="e" d="M1086.8,569.8v25.1"/><path class="e" d="M1094.9,602v25.1"/><path class="e" d="M1103.1,595v25.1"/><path class="e" d="M1111.2,579.1v25.1"/><path class="e" d="M1119.3,613.6v25.1"/><path class="e" d="M1127.5,587.1v25.1"/><path class="e" d="M1135.6,604.3v25.1"/><path class="e" d="M1143.7,578.2v25.1"/><path class="e" d="M1151.8,582.5v25.1"/><path class="e" d="M1160,608.2v25.1"/><path class="e" d="M1168.1,582.8v25.1"/><path class="e" d="M1176.2,587.1v25.1"/><path class="e" d="M1184.4,600.6v25.1"/><path class="e" d="M1192.5,540.3v25.1"/><path class="e" d="M1200.6,594.2v25.1"/><path class="e" d="M1208.8,618.8v25.1"/><path class="e" d="M1216.9,578.4v25.1"/><path class="e" d="M1225,570v25.1"/><path class="e" d="M1233.1,552.3v25.1"/><path class="e" d="M1241.3,575v25.1"/><path class="e" d="M1249.4,600v25.1"/><path class="e" d="M1257.5,548.5v25.1"/><path class="e" d="M1265.7,562.9v25.1"/><path class="e" d="M1273.8,542.4v25.1"/><path class="e" d="M1281.9,576.3v25.1"/><path class="e" d="M1290.1,544.2v25.1"/><path class="e" d="M1298.2,568.1v25.1"/><path class="e" d="M1306.3,571.3v25.1"/><path class="e" d="M1314.4,522.2v25.1"/><path class="e" d="M1322.6,562.3v25.1"/><path class="e" d="M1330.7,538.3v25.1"/><path class="e" d="M1338.8,548v25.1"/><path class="e" d="M1347,547v25.1"/><path class="e" d="M1355.1,567.9v25.1"/><path class="e" d="M1363.2,554.9v25.1"/><path class="e" d="M1371.4,551.3v25.1"/><path class="e" d="M1379.5,538.6v25.1"/><path class="e" d="M1387.6,555v25.1"/><path class="e" d="M1395.7,532.1v25.1"/><path class="e" d="M1403.9,562.9v25.1"/><path class="e" d="M1412,570.3v25.1"/><path class="e" d="M1420.1,542.4v25.1"/><path class="e" d="M1428.3,543.9v25.1"/><path class="e" d="M1436.4,536.8v25.1"/><path class="e" d="M1444.5,565.7v25.1"/><path class="e" d="M1452.7,513.1v25.1"/><path class="e" d="M1460.8,548.3v25.1"/><path class="e" d="M1468.9,544.2v25.1"/><path class="e" d="M1477,532.1v25.1"/><path class="e" d="M1485.2,549.3v25.1"/><path class="e" d="M1493.3,572.2v25.1"/><path class="e" d="M1501.4,558.2v25.1"/><path class="e" d="M1509.6,564.7v25.1"/><path class="e" d="M1517.7,545.5v25.1"/><path class="e" d="M1525.8,556.7v25.1"/><path class="e" d="M1542.1,546.1v25.1"/><path class="e" d="M1550.2,568.5v25.1"/><path class="e" d="M1558.3,550.8v25.1"/><path class="e" d="M1574.6,570.7v25.1"/>
<circle class="m" cx="924.2" cy="642.6" r="3.7"/><circle class="m" cx="932.3" cy="600.6" r="3.7"/><circle class="m" cx="940.5" cy="554" r="3.7"/><circle class="m" cx="948.6" cy="532" r="3.7"/><circle class="m" cx="956.7" cy="550.8" r="3.7"/><circle class="m" cx="964.9" cy="551.6" r="3.7"/><circle class="m" cx="973" cy="568.9" r="3.7"/><circle class="m" cx="981.1" cy="533.9" r="3.7"/><circle class="m" cx="989.2" cy="554.4" r="3.7"/><circle class="m" cx="997.4" cy="562" r="3.7"/><circle class="m" cx="1005.5" cy="566.1" r="3.7"/><circle class="m" cx="1013.6" cy="556.2" r="3.7"/><circle class="m" cx="1021.8" cy="563.9" r="3.7"/><circle class="m" cx="1029.9" cy="563.3" r="3.7"/><circle class="m" cx="1038" cy="591.7" r="3.7"/><circle class="m" cx="1046.2" cy="583.5" r="3.7"/><circle class="m" cx="1054.3" cy="557.9" r="3.7"/><circle class="m" cx="1062.4" cy="599.7" r="3.7"/><circle class="m" cx="1070.5" cy="575.5" r="3.7"/><circle class="m" cx="1078.7" cy="593.7" r="3.7"/><circle class="m" cx="1086.8" cy="582.4" r="3.7"/><circle class="m" cx="1094.9" cy="614.6" r="3.7"/><circle class="m" cx="1103.1" cy="607.5" r="3.7"/><circle class="m" cx="1111.2" cy="591.7" r="3.7"/><circle class="m" cx="1119.3" cy="626.2" r="3.7"/><circle class="m" cx="1127.5" cy="599.7" r="3.7"/><circle class="m" cx="1135.6" cy="616.9" r="3.7"/><circle class="m" cx="1143.7" cy="590.7" r="3.7"/><circle class="m" cx="1151.8" cy="595" r="3.7"/><circle class="m" cx="1160" cy="620.8" r="3.7"/><circle class="m" cx="1168.1" cy="595.4" r="3.7"/><circle class="m" cx="1176.2" cy="599.7" r="3.7"/><circle class="m" cx="1184.4" cy="613.1" r="3.7"/><circle class="m" cx="1192.5" cy="552.9" r="3.7"/><circle class="m" cx="1200.6" cy="606.8" r="3.7"/><circle class="m" cx="1208.8" cy="631.4" r="3.7"/><circle class="m" cx="1216.9" cy="590.9" r="3.7"/><circle class="m" cx="1225" cy="582.5" r="3.7"/><circle class="m" cx="1233.1" cy="564.8" r="3.7"/><circle class="m" cx="1241.3" cy="587.6" r="3.7"/><circle class="m" cx="1249.4" cy="612.6" r="3.7"/><circle class="m" cx="1257.5" cy="561.1" r="3.7"/><circle class="m" cx="1265.7" cy="575.5" r="3.7"/><circle class="m" cx="1273.8" cy="554.9" r="3.7"/><circle class="m" cx="1281.9" cy="588.9" r="3.7"/><circle class="m" cx="1290.1" cy="556.8" r="3.7"/><circle class="m" cx="1298.2" cy="580.7" r="3.7"/><circle class="m" cx="1306.3" cy="583.8" r="3.7"/><circle class="m" cx="1314.4" cy="534.8" r="3.7"/><circle class="m" cx="1322.6" cy="574.9" r="3.7"/><circle class="m" cx="1330.7" cy="550.8" r="3.7"/><circle class="m" cx="1338.8" cy="560.5" r="3.7"/><circle class="m" cx="1347" cy="559.6" r="3.7"/><circle class="m" cx="1355.1" cy="580.5" r="3.7"/><circle class="m" cx="1363.2" cy="567.4" r="3.7"/><circle class="m" cx="1371.4" cy="563.9" r="3.7"/><circle class="m" cx="1379.5" cy="551.2" r="3.7"/><circle class="m" cx="1387.6" cy="567.6" r="3.7"/><circle class="m" cx="1395.7" cy="544.7" r="3.7"/><circle class="m" cx="1403.9" cy="575.5" r="3.7"/><circle class="m" cx="1412" cy="582.9" r="3.7"/><circle class="m" cx="1420.1" cy="554.9" r="3.7"/><circle class="m" cx="1428.3" cy="556.4" r="3.7"/><circle class="m" cx="1436.4" cy="549.3" r="3.7"/><circle class="m" cx="1444.5" cy="578.2" r="3.7"/><circle class="m" cx="1452.7" cy="525.7" r="3.7"/><circle class="m" cx="1460.8" cy="560.9" r="3.7"/><circle class="m" cx="1468.9" cy="556.8" r="3.7"/><circle class="m" cx="1477" cy="544.7" r="3.7"/><circle class="m" cx="1485.2" cy="561.8" r="3.7"/><circle class="m" cx="1493.3" cy="584.8" r="3.7"/><circle class="m" cx="1501.4" cy="570.8" r="3.7"/><circle class="m" cx="1509.6" cy="577.3" r="3.7"/><circle class="m" cx="1517.7" cy="558.1" r="3.7"/><circle class="m" cx="1525.8" cy="569.3" r="3.7"/><circle class="m" cx="1542.1" cy="558.7" r="3.7"/><circle class="m" cx="1550.2" cy="581" r="3.7"/><circle class="m" cx="1558.3" cy="563.3" r="3.7"/><circle class="m" cx="1574.6" cy="583.3" r="3.7"/>
</g>
<path d="M98.6,398H777.1" stroke="#000" stroke-opacity=".9" stroke-width="1.2" fill="none"/>
<path d="M98.6,580.3H777.1" stroke="#000" stroke-opacity=".9" stroke-width="1.2" fill="none"/>
<path d="M918,398H1596" stroke="#000" stroke-opacity=".9" stroke-width="1.2" fill="none"/>
<path d="M918,580.3H1596" stroke="#000" stroke-opacity=".9" stroke-width="1.2" fill="none"/>
<path d="M120.8,316.8H177.3" stroke="#20b2aa" stroke-width="3.7"/>
<path d="M120.8,488.6H177.3" stroke="#9932cc" stroke-width="3.7"/>
<path d="M940.2,262H996.5" stroke="#1e90ff" stroke-width="3.3"/>
<path d="M940.2,304.2H996.5" stroke="#ff4a28" stroke-width="3.3"/>
<text transform="translate(0.23,23.88) scale(0.9418,0.965)" class="pl">a</text>
<text transform="translate(798.90,23.88) scale(1.0293,0.9649)" class="pl">b</text>
<text transform="translate(126.36,62.90) scale(1.0282,1.025)">Object A</text>
<text transform="translate(127.41,113.40) scale(0.9858,1)">JADES-GN-68797</text>
<text transform="translate(187.18,325.30) scale(1.0063,1)">Exponential</text>
<text transform="translate(187.41,497.90) scale(0.993,1)">Gaussian</text>
<text transform="translate(572.16,324.90) scale(1.0083,1)"><tspan font-family="DejaVu Serif" font-style="italic" font-size="27.2" stroke="#000" stroke-width=".45" textLength="12.4" lengthAdjust="spacingAndGlyphs">χ</tspan><tspan dy="-12" dx="1.6" font-size="20.4">2</tspan><tspan dy="12"> = 787</tspan></text>
<text transform="translate(572.15,498.30) scale(1.0004,1)"><tspan font-family="DejaVu Serif" font-style="italic" font-size="27.2" stroke="#000" stroke-width=".45" textLength="12.4" lengthAdjust="spacingAndGlyphs">χ</tspan><tspan dy="-12" dx="1.6" font-size="20.4">2</tspan><tspan dy="12"> = 1,279</tspan></text>
<text transform="translate(1006.93,270.70) scale(0.9866,1)">Left wing (&lt;6,565 Å)</text>
<text transform="translate(1006.94,313.20) scale(0.9852,1)">Right wing (&gt;6,565 Å)</text>
<text transform="translate(265.54,744.50) scale(0.9835,1)">Rest-frame wavelength (Å)</text>
<text transform="translate(1152.26,744.60) scale(0.974,1)">Velocity (km s<tspan dy="-12" font-size="21">−1</tspan><tspan dy="12">)</tspan></text>
<text transform="translate(61.24,701.00) scale(1.0049,1)">6,450</text>
<text transform="translate(212.79,701.00) scale(1.0049,1)">6,500</text>
<text transform="translate(364.34,701.00) scale(1.0049,1)">6,550</text>
<text transform="translate(515.39,701.00) scale(1.0049,1)">6,600</text>
<text transform="translate(666.49,701.00) scale(1.0049,1)">6,650</text>
<text transform="translate(910.07,701.00) scale(0.985,1)">0</text>
<text transform="translate(1050.31,701.00) scale(0.989,1)">1,000</text>
<text transform="translate(1219.78,701.00) scale(0.989,1)">2,000</text>
<text transform="translate(1389.81,701.00) scale(0.989,1)">3,000</text>
<text transform="translate(1559.75,701.00) scale(0.989,1)">4,000</text>
<text transform="translate(47.85,63.00) scale(0.985,1)">1.0</text>
<text transform="translate(48.10,181.70) scale(0.985,1)">0.5</text>
<text transform="translate(72.23,301.00) scale(0.985,1)">0</text>
<text transform="translate(72.23,344.15) scale(0.985,1)">5</text>
<text transform="translate(72.23,406.90) scale(0.985,1)">0</text>
<text transform="translate(55.24,469.85) scale(0.985,1)">−5</text>
<text transform="translate(72.23,526.35) scale(0.985,1)">5</text>
<text transform="translate(72.23,589.10) scale(0.985,1)">0</text>
<text transform="translate(55.24,652.05) scale(0.985,1)">−5</text>
<text transform="translate(890.98,344.15) scale(0.985,1)">5</text>
<text transform="translate(890.98,406.90) scale(0.985,1)">0</text>
<text transform="translate(873.99,469.85) scale(0.985,1)">−5</text>
<text transform="translate(890.98,526.35) scale(0.985,1)">5</text>
<text transform="translate(890.98,589.10) scale(0.985,1)">0</text>
<text transform="translate(873.99,652.05) scale(0.985,1)">−5</text>
<text transform="translate(862.94,62.00) scale(1.0048,1)">10<tspan dy="-13" font-size="21">0</tspan></text>
<text transform="translate(853.01,200.90) scale(0.9711,1)">10<tspan dy="-12.9" font-size="21" textLength="20.6" lengthAdjust="spacingAndGlyphs">−1</tspan></text>
<text transform="translate(25.20,229.54) rotate(-90) scale(1.0381,1)"><tspan font-style="italic">F</tspan><tspan dy="8" font-size="19.6" font-family='"Liberation Serif", "DejaVu Serif", serif'>λ</tspan><tspan dy="-8" font-style="italic">/F</tspan><tspan dy="8" font-size="21"><tspan font-family='"Liberation Serif", "DejaVu Serif", serif' font-size="19.6">λ</tspan>,max</tspan></text>
<text transform="translate(822.90,229.54) rotate(-90) scale(1.0381,1)"><tspan font-style="italic">F</tspan><tspan dy="8" font-size="19.6" font-family='"Liberation Serif", "DejaVu Serif", serif'>λ</tspan><tspan dy="-8" font-style="italic">/F</tspan><tspan dy="8" font-size="21"><tspan font-family='"Liberation Serif", "DejaVu Serif", serif' font-size="19.6">λ</tspan>,max</tspan></text>
<text transform="translate(24.78,403.77) rotate(-90) scale(0.705,0.9476)"><tspan font-family="DejaVu Serif" font-style="italic" font-size="27.4" stroke="#000" stroke-width=".5">χ</tspan></text>
<text transform="translate(24.78,585.97) rotate(-90) scale(0.705,0.9476)"><tspan font-family="DejaVu Serif" font-style="italic" font-size="27.4" stroke="#000" stroke-width=".5">χ</tspan></text>
<text transform="translate(822.28,403.77) rotate(-90) scale(0.705,0.9476)"><tspan font-family="DejaVu Serif" font-style="italic" font-size="27.4" stroke="#000" stroke-width=".5">χ</tspan></text>
<text transform="translate(822.28,585.97) rotate(-90) scale(0.705,0.9476)"><tspan font-family="DejaVu Serif" font-style="italic" font-size="27.4" stroke="#000" stroke-width=".5">χ</tspan></text>
</svg>
</body>
</html>
